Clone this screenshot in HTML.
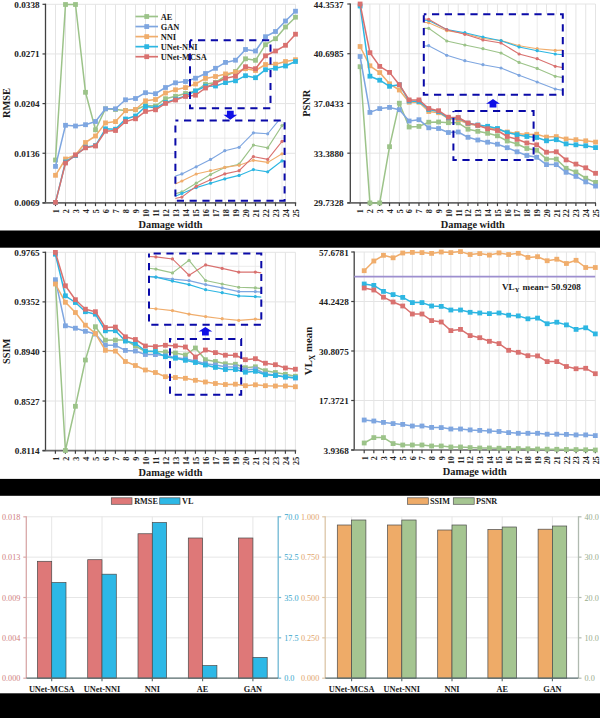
<!DOCTYPE html><html><head><meta charset="utf-8"><style>html,body{margin:0;padding:0;background:#fff;}svg{display:block;}text.k{stroke:#222;stroke-width:0.22px;}</style></head><body>
<svg width="600" height="718" viewBox="0 0 600 718" font-family="'Liberation Serif', serif">
<rect width="600" height="718" fill="#fff"/>
<defs><clipPath id="c1"><rect x="40" y="0" width="260" height="208"/></clipPath><clipPath id="c2"><rect x="345" y="0" width="255" height="208"/></clipPath><clipPath id="c3"><rect x="40" y="248" width="260" height="208"/></clipPath><clipPath id="c4"><rect x="345" y="248" width="255" height="208"/></clipPath></defs>
<line x1="45.5" y1="4.3" x2="295.6" y2="4.3" stroke="#e4e4e4" stroke-width="1"/>
<line x1="45.5" y1="53.95" x2="295.6" y2="53.95" stroke="#e4e4e4" stroke-width="1"/>
<line x1="45.5" y1="103.6" x2="295.6" y2="103.6" stroke="#e4e4e4" stroke-width="1"/>
<line x1="45.5" y1="153.25" x2="295.6" y2="153.25" stroke="#e4e4e4" stroke-width="1"/>
<line x1="45.5" y1="202.9" x2="295.6" y2="202.9" stroke="#e4e4e4" stroke-width="1"/>
<line x1="55.5" y1="4.3" x2="55.5" y2="202.9" stroke="#e4e4e4" stroke-width="1"/>
<line x1="65.5" y1="4.3" x2="65.5" y2="202.9" stroke="#e4e4e4" stroke-width="1"/>
<line x1="75.5" y1="4.3" x2="75.5" y2="202.9" stroke="#e4e4e4" stroke-width="1"/>
<line x1="85.5" y1="4.3" x2="85.5" y2="202.9" stroke="#e4e4e4" stroke-width="1"/>
<line x1="95.5" y1="4.3" x2="95.5" y2="202.9" stroke="#e4e4e4" stroke-width="1"/>
<line x1="105.5" y1="4.3" x2="105.5" y2="202.9" stroke="#e4e4e4" stroke-width="1"/>
<line x1="115.5" y1="4.3" x2="115.5" y2="202.9" stroke="#e4e4e4" stroke-width="1"/>
<line x1="125.5" y1="4.3" x2="125.5" y2="202.9" stroke="#e4e4e4" stroke-width="1"/>
<line x1="135.5" y1="4.3" x2="135.5" y2="202.9" stroke="#e4e4e4" stroke-width="1"/>
<line x1="145.5" y1="4.3" x2="145.5" y2="202.9" stroke="#e4e4e4" stroke-width="1"/>
<line x1="155.5" y1="4.3" x2="155.5" y2="202.9" stroke="#e4e4e4" stroke-width="1"/>
<line x1="165.5" y1="4.3" x2="165.5" y2="202.9" stroke="#e4e4e4" stroke-width="1"/>
<line x1="175.5" y1="4.3" x2="175.5" y2="202.9" stroke="#e4e4e4" stroke-width="1"/>
<line x1="185.5" y1="4.3" x2="185.5" y2="202.9" stroke="#e4e4e4" stroke-width="1"/>
<line x1="195.5" y1="4.3" x2="195.5" y2="202.9" stroke="#e4e4e4" stroke-width="1"/>
<line x1="205.5" y1="4.3" x2="205.5" y2="202.9" stroke="#e4e4e4" stroke-width="1"/>
<line x1="215.5" y1="4.3" x2="215.5" y2="202.9" stroke="#e4e4e4" stroke-width="1"/>
<line x1="225.5" y1="4.3" x2="225.5" y2="202.9" stroke="#e4e4e4" stroke-width="1"/>
<line x1="235.5" y1="4.3" x2="235.5" y2="202.9" stroke="#e4e4e4" stroke-width="1"/>
<line x1="245.5" y1="4.3" x2="245.5" y2="202.9" stroke="#e4e4e4" stroke-width="1"/>
<line x1="255.5" y1="4.3" x2="255.5" y2="202.9" stroke="#e4e4e4" stroke-width="1"/>
<line x1="265.5" y1="4.3" x2="265.5" y2="202.9" stroke="#e4e4e4" stroke-width="1"/>
<line x1="275.5" y1="4.3" x2="275.5" y2="202.9" stroke="#e4e4e4" stroke-width="1"/>
<line x1="285.5" y1="4.3" x2="285.5" y2="202.9" stroke="#e4e4e4" stroke-width="1"/>
<line x1="295.5" y1="4.3" x2="295.5" y2="202.9" stroke="#e4e4e4" stroke-width="1"/>
<line x1="45.5" y1="3.7" x2="45.5" y2="202.9" stroke="#404040" stroke-width="1.3"/>
<line x1="42.5" y1="202.9" x2="296.2" y2="202.9" stroke="#6a6a6a" stroke-width="1.6"/>
<line x1="42.5" y1="4.3" x2="45.5" y2="4.3" stroke="#404040" stroke-width="1.2"/>
<line x1="42.5" y1="53.95" x2="45.5" y2="53.95" stroke="#404040" stroke-width="1.2"/>
<line x1="42.5" y1="103.6" x2="45.5" y2="103.6" stroke="#404040" stroke-width="1.2"/>
<line x1="42.5" y1="153.25" x2="45.5" y2="153.25" stroke="#404040" stroke-width="1.2"/>
<line x1="42.5" y1="202.9" x2="45.5" y2="202.9" stroke="#404040" stroke-width="1.2"/>
<line x1="55.5" y1="202.9" x2="55.5" y2="206.1" stroke="#404040" stroke-width="1.2"/>
<line x1="65.5" y1="202.9" x2="65.5" y2="206.1" stroke="#404040" stroke-width="1.2"/>
<line x1="75.5" y1="202.9" x2="75.5" y2="206.1" stroke="#404040" stroke-width="1.2"/>
<line x1="85.5" y1="202.9" x2="85.5" y2="206.1" stroke="#404040" stroke-width="1.2"/>
<line x1="95.5" y1="202.9" x2="95.5" y2="206.1" stroke="#404040" stroke-width="1.2"/>
<line x1="105.5" y1="202.9" x2="105.5" y2="206.1" stroke="#404040" stroke-width="1.2"/>
<line x1="115.5" y1="202.9" x2="115.5" y2="206.1" stroke="#404040" stroke-width="1.2"/>
<line x1="125.5" y1="202.9" x2="125.5" y2="206.1" stroke="#404040" stroke-width="1.2"/>
<line x1="135.5" y1="202.9" x2="135.5" y2="206.1" stroke="#404040" stroke-width="1.2"/>
<line x1="145.5" y1="202.9" x2="145.5" y2="206.1" stroke="#404040" stroke-width="1.2"/>
<line x1="155.5" y1="202.9" x2="155.5" y2="206.1" stroke="#404040" stroke-width="1.2"/>
<line x1="165.5" y1="202.9" x2="165.5" y2="206.1" stroke="#404040" stroke-width="1.2"/>
<line x1="175.5" y1="202.9" x2="175.5" y2="206.1" stroke="#404040" stroke-width="1.2"/>
<line x1="185.5" y1="202.9" x2="185.5" y2="206.1" stroke="#404040" stroke-width="1.2"/>
<line x1="195.5" y1="202.9" x2="195.5" y2="206.1" stroke="#404040" stroke-width="1.2"/>
<line x1="205.5" y1="202.9" x2="205.5" y2="206.1" stroke="#404040" stroke-width="1.2"/>
<line x1="215.5" y1="202.9" x2="215.5" y2="206.1" stroke="#404040" stroke-width="1.2"/>
<line x1="225.5" y1="202.9" x2="225.5" y2="206.1" stroke="#404040" stroke-width="1.2"/>
<line x1="235.5" y1="202.9" x2="235.5" y2="206.1" stroke="#404040" stroke-width="1.2"/>
<line x1="245.5" y1="202.9" x2="245.5" y2="206.1" stroke="#404040" stroke-width="1.2"/>
<line x1="255.5" y1="202.9" x2="255.5" y2="206.1" stroke="#404040" stroke-width="1.2"/>
<line x1="265.5" y1="202.9" x2="265.5" y2="206.1" stroke="#404040" stroke-width="1.2"/>
<line x1="275.5" y1="202.9" x2="275.5" y2="206.1" stroke="#404040" stroke-width="1.2"/>
<line x1="285.5" y1="202.9" x2="285.5" y2="206.1" stroke="#404040" stroke-width="1.2"/>
<line x1="295.5" y1="202.9" x2="295.5" y2="206.1" stroke="#404040" stroke-width="1.2"/>
<text x="39.6" y="7.8" text-anchor="end" font-size="9.2" font-weight="bold" fill="#222">0.0338</text>
<text x="39.6" y="57.45" text-anchor="end" font-size="9.2" font-weight="bold" fill="#222">0.0271</text>
<text x="39.6" y="107.1" text-anchor="end" font-size="9.2" font-weight="bold" fill="#222">0.0204</text>
<text x="39.6" y="156.75" text-anchor="end" font-size="9.2" font-weight="bold" fill="#222">0.0136</text>
<text x="39.6" y="206.4" text-anchor="end" font-size="9.2" font-weight="bold" fill="#222">0.0069</text>
<text transform="translate(58.8,209.1) rotate(-90)" text-anchor="end" font-size="8.1" font-weight="bold" fill="#222">1</text>
<text transform="translate(68.8,209.1) rotate(-90)" text-anchor="end" font-size="8.1" font-weight="bold" fill="#222">2</text>
<text transform="translate(78.8,209.1) rotate(-90)" text-anchor="end" font-size="8.1" font-weight="bold" fill="#222">3</text>
<text transform="translate(88.8,209.1) rotate(-90)" text-anchor="end" font-size="8.1" font-weight="bold" fill="#222">4</text>
<text transform="translate(98.8,209.1) rotate(-90)" text-anchor="end" font-size="8.1" font-weight="bold" fill="#222">5</text>
<text transform="translate(108.8,209.1) rotate(-90)" text-anchor="end" font-size="8.1" font-weight="bold" fill="#222">6</text>
<text transform="translate(118.8,209.1) rotate(-90)" text-anchor="end" font-size="8.1" font-weight="bold" fill="#222">7</text>
<text transform="translate(128.8,209.1) rotate(-90)" text-anchor="end" font-size="8.1" font-weight="bold" fill="#222">8</text>
<text transform="translate(138.8,209.1) rotate(-90)" text-anchor="end" font-size="8.1" font-weight="bold" fill="#222">9</text>
<text transform="translate(148.8,209.1) rotate(-90)" text-anchor="end" font-size="8.1" font-weight="bold" fill="#222">10</text>
<text transform="translate(158.8,209.1) rotate(-90)" text-anchor="end" font-size="8.1" font-weight="bold" fill="#222">11</text>
<text transform="translate(168.8,209.1) rotate(-90)" text-anchor="end" font-size="8.1" font-weight="bold" fill="#222">12</text>
<text transform="translate(178.8,209.1) rotate(-90)" text-anchor="end" font-size="8.1" font-weight="bold" fill="#222">13</text>
<text transform="translate(188.8,209.1) rotate(-90)" text-anchor="end" font-size="8.1" font-weight="bold" fill="#222">14</text>
<text transform="translate(198.8,209.1) rotate(-90)" text-anchor="end" font-size="8.1" font-weight="bold" fill="#222">15</text>
<text transform="translate(208.8,209.1) rotate(-90)" text-anchor="end" font-size="8.1" font-weight="bold" fill="#222">16</text>
<text transform="translate(218.8,209.1) rotate(-90)" text-anchor="end" font-size="8.1" font-weight="bold" fill="#222">17</text>
<text transform="translate(228.8,209.1) rotate(-90)" text-anchor="end" font-size="8.1" font-weight="bold" fill="#222">18</text>
<text transform="translate(238.8,209.1) rotate(-90)" text-anchor="end" font-size="8.1" font-weight="bold" fill="#222">19</text>
<text transform="translate(248.8,209.1) rotate(-90)" text-anchor="end" font-size="8.1" font-weight="bold" fill="#222">20</text>
<text transform="translate(258.8,209.1) rotate(-90)" text-anchor="end" font-size="8.1" font-weight="bold" fill="#222">21</text>
<text transform="translate(268.8,209.1) rotate(-90)" text-anchor="end" font-size="8.1" font-weight="bold" fill="#222">22</text>
<text transform="translate(278.8,209.1) rotate(-90)" text-anchor="end" font-size="8.1" font-weight="bold" fill="#222">23</text>
<text transform="translate(288.8,209.1) rotate(-90)" text-anchor="end" font-size="8.1" font-weight="bold" fill="#222">24</text>
<text transform="translate(298.8,209.1) rotate(-90)" text-anchor="end" font-size="8.1" font-weight="bold" fill="#222">25</text>
<text x="170.55" y="228.3" text-anchor="middle" font-size="10.35" font-weight="bold" fill="#1a1a1a" transform="translate(0,0)">Damage width</text>
<text transform="translate(10.4,103.1) rotate(-90)" text-anchor="middle" font-size="10.4" font-weight="bold" fill="#1a1a1a">RMSE</text>
<g clip-path="url(#c1)">
<polyline points="55.5,160 65.5,4.5 75.5,4.5 85.5,92.3 95.5,129.8 105.5,108.8 115.5,109.5 125.5,110.5 135.5,109.8 145.5,105.5 155.5,106 165.5,98.7 175.5,96.3 185.5,93.5 195.5,91 205.5,84.2 215.5,82.5 225.5,76 235.5,71.5 245.5,58.8 255.5,60.3 265.5,44.7 275.5,38.7 285.5,27 295.5,17.2" fill="none" stroke="#9cc389" stroke-width="1.5" stroke-linejoin="round"/>
<rect x="53.1" y="157.6" width="4.8" height="4.8" fill="#9cc389"/>
<rect x="63.1" y="2.1" width="4.8" height="4.8" fill="#9cc389"/>
<rect x="73.1" y="2.1" width="4.8" height="4.8" fill="#9cc389"/>
<rect x="83.1" y="89.9" width="4.8" height="4.8" fill="#9cc389"/>
<rect x="93.1" y="127.4" width="4.8" height="4.8" fill="#9cc389"/>
<rect x="103.1" y="106.4" width="4.8" height="4.8" fill="#9cc389"/>
<rect x="113.1" y="107.1" width="4.8" height="4.8" fill="#9cc389"/>
<rect x="123.1" y="108.1" width="4.8" height="4.8" fill="#9cc389"/>
<rect x="133.1" y="107.4" width="4.8" height="4.8" fill="#9cc389"/>
<rect x="143.1" y="103.1" width="4.8" height="4.8" fill="#9cc389"/>
<rect x="153.1" y="103.6" width="4.8" height="4.8" fill="#9cc389"/>
<rect x="163.1" y="96.3" width="4.8" height="4.8" fill="#9cc389"/>
<rect x="173.1" y="93.9" width="4.8" height="4.8" fill="#9cc389"/>
<rect x="183.1" y="91.1" width="4.8" height="4.8" fill="#9cc389"/>
<rect x="193.1" y="88.6" width="4.8" height="4.8" fill="#9cc389"/>
<rect x="203.1" y="81.8" width="4.8" height="4.8" fill="#9cc389"/>
<rect x="213.1" y="80.1" width="4.8" height="4.8" fill="#9cc389"/>
<rect x="223.1" y="73.6" width="4.8" height="4.8" fill="#9cc389"/>
<rect x="233.1" y="69.1" width="4.8" height="4.8" fill="#9cc389"/>
<rect x="243.1" y="56.4" width="4.8" height="4.8" fill="#9cc389"/>
<rect x="253.1" y="57.9" width="4.8" height="4.8" fill="#9cc389"/>
<rect x="263.1" y="42.3" width="4.8" height="4.8" fill="#9cc389"/>
<rect x="273.1" y="36.3" width="4.8" height="4.8" fill="#9cc389"/>
<rect x="283.1" y="24.6" width="4.8" height="4.8" fill="#9cc389"/>
<rect x="293.1" y="14.8" width="4.8" height="4.8" fill="#9cc389"/>
<polyline points="55.5,166.4 65.5,125.3 75.5,126 85.5,124.7 95.5,121.5 105.5,108.8 115.5,108.8 125.5,99.8 135.5,98.5 145.5,92.7 155.5,93.7 165.5,87.5 175.5,82.8 185.5,81.5 195.5,78.2 205.5,73.5 215.5,68.3 225.5,62.4 235.5,60.2 245.5,49.5 255.5,51 265.5,36.7 275.5,31.5 285.5,21 295.5,11.2" fill="none" stroke="#7ea6e0" stroke-width="1.5" stroke-linejoin="round"/>
<rect x="53.1" y="164" width="4.8" height="4.8" fill="#7ea6e0"/>
<rect x="63.1" y="122.9" width="4.8" height="4.8" fill="#7ea6e0"/>
<rect x="73.1" y="123.6" width="4.8" height="4.8" fill="#7ea6e0"/>
<rect x="83.1" y="122.3" width="4.8" height="4.8" fill="#7ea6e0"/>
<rect x="93.1" y="119.1" width="4.8" height="4.8" fill="#7ea6e0"/>
<rect x="103.1" y="106.4" width="4.8" height="4.8" fill="#7ea6e0"/>
<rect x="113.1" y="106.4" width="4.8" height="4.8" fill="#7ea6e0"/>
<rect x="123.1" y="97.4" width="4.8" height="4.8" fill="#7ea6e0"/>
<rect x="133.1" y="96.1" width="4.8" height="4.8" fill="#7ea6e0"/>
<rect x="143.1" y="90.3" width="4.8" height="4.8" fill="#7ea6e0"/>
<rect x="153.1" y="91.3" width="4.8" height="4.8" fill="#7ea6e0"/>
<rect x="163.1" y="85.1" width="4.8" height="4.8" fill="#7ea6e0"/>
<rect x="173.1" y="80.4" width="4.8" height="4.8" fill="#7ea6e0"/>
<rect x="183.1" y="79.1" width="4.8" height="4.8" fill="#7ea6e0"/>
<rect x="193.1" y="75.8" width="4.8" height="4.8" fill="#7ea6e0"/>
<rect x="203.1" y="71.1" width="4.8" height="4.8" fill="#7ea6e0"/>
<rect x="213.1" y="65.9" width="4.8" height="4.8" fill="#7ea6e0"/>
<rect x="223.1" y="60" width="4.8" height="4.8" fill="#7ea6e0"/>
<rect x="233.1" y="57.8" width="4.8" height="4.8" fill="#7ea6e0"/>
<rect x="243.1" y="47.1" width="4.8" height="4.8" fill="#7ea6e0"/>
<rect x="253.1" y="48.6" width="4.8" height="4.8" fill="#7ea6e0"/>
<rect x="263.1" y="34.3" width="4.8" height="4.8" fill="#7ea6e0"/>
<rect x="273.1" y="29.1" width="4.8" height="4.8" fill="#7ea6e0"/>
<rect x="283.1" y="18.6" width="4.8" height="4.8" fill="#7ea6e0"/>
<rect x="293.1" y="8.8" width="4.8" height="4.8" fill="#7ea6e0"/>
<polyline points="55.5,175.3 65.5,159 75.5,155 85.5,142.5 95.5,136 105.5,122.9 115.5,121.6 125.5,110.7 135.5,109.5 145.5,100.8 155.5,99.5 165.5,93 175.5,89.8 185.5,87.6 195.5,84 205.5,78.4 215.5,76.5 225.5,73.9 235.5,72.2 245.5,68.7 255.5,70.5 265.5,64.5 275.5,64.2 285.5,61.5 295.5,59.7" fill="none" stroke="#f0ad6c" stroke-width="1.5" stroke-linejoin="round"/>
<rect x="53.1" y="172.9" width="4.8" height="4.8" fill="#f0ad6c"/>
<rect x="63.1" y="156.6" width="4.8" height="4.8" fill="#f0ad6c"/>
<rect x="73.1" y="152.6" width="4.8" height="4.8" fill="#f0ad6c"/>
<rect x="83.1" y="140.1" width="4.8" height="4.8" fill="#f0ad6c"/>
<rect x="93.1" y="133.6" width="4.8" height="4.8" fill="#f0ad6c"/>
<rect x="103.1" y="120.5" width="4.8" height="4.8" fill="#f0ad6c"/>
<rect x="113.1" y="119.2" width="4.8" height="4.8" fill="#f0ad6c"/>
<rect x="123.1" y="108.3" width="4.8" height="4.8" fill="#f0ad6c"/>
<rect x="133.1" y="107.1" width="4.8" height="4.8" fill="#f0ad6c"/>
<rect x="143.1" y="98.4" width="4.8" height="4.8" fill="#f0ad6c"/>
<rect x="153.1" y="97.1" width="4.8" height="4.8" fill="#f0ad6c"/>
<rect x="163.1" y="90.6" width="4.8" height="4.8" fill="#f0ad6c"/>
<rect x="173.1" y="87.4" width="4.8" height="4.8" fill="#f0ad6c"/>
<rect x="183.1" y="85.2" width="4.8" height="4.8" fill="#f0ad6c"/>
<rect x="193.1" y="81.6" width="4.8" height="4.8" fill="#f0ad6c"/>
<rect x="203.1" y="76" width="4.8" height="4.8" fill="#f0ad6c"/>
<rect x="213.1" y="74.1" width="4.8" height="4.8" fill="#f0ad6c"/>
<rect x="223.1" y="71.5" width="4.8" height="4.8" fill="#f0ad6c"/>
<rect x="233.1" y="69.8" width="4.8" height="4.8" fill="#f0ad6c"/>
<rect x="243.1" y="66.3" width="4.8" height="4.8" fill="#f0ad6c"/>
<rect x="253.1" y="68.1" width="4.8" height="4.8" fill="#f0ad6c"/>
<rect x="263.1" y="62.1" width="4.8" height="4.8" fill="#f0ad6c"/>
<rect x="273.1" y="61.8" width="4.8" height="4.8" fill="#f0ad6c"/>
<rect x="283.1" y="59.1" width="4.8" height="4.8" fill="#f0ad6c"/>
<rect x="293.1" y="57.3" width="4.8" height="4.8" fill="#f0ad6c"/>
<polyline points="55.5,202.4 65.5,162 75.5,155.5 85.5,147.2 95.5,145.6 105.5,128.8 115.5,129.2 125.5,119 135.5,116 145.5,106.5 155.5,107.8 165.5,102.6 175.5,99.2 185.5,95.9 195.5,91 205.5,86.2 215.5,86 225.5,82.6 235.5,80.8 245.5,75.7 255.5,77.7 265.5,69.7 275.5,68.2 285.5,66 295.5,61.5" fill="none" stroke="#2db6e2" stroke-width="1.5" stroke-linejoin="round"/>
<rect x="53.1" y="200" width="4.8" height="4.8" fill="#2db6e2"/>
<rect x="63.1" y="159.6" width="4.8" height="4.8" fill="#2db6e2"/>
<rect x="73.1" y="153.1" width="4.8" height="4.8" fill="#2db6e2"/>
<rect x="83.1" y="144.8" width="4.8" height="4.8" fill="#2db6e2"/>
<rect x="93.1" y="143.2" width="4.8" height="4.8" fill="#2db6e2"/>
<rect x="103.1" y="126.4" width="4.8" height="4.8" fill="#2db6e2"/>
<rect x="113.1" y="126.8" width="4.8" height="4.8" fill="#2db6e2"/>
<rect x="123.1" y="116.6" width="4.8" height="4.8" fill="#2db6e2"/>
<rect x="133.1" y="113.6" width="4.8" height="4.8" fill="#2db6e2"/>
<rect x="143.1" y="104.1" width="4.8" height="4.8" fill="#2db6e2"/>
<rect x="153.1" y="105.4" width="4.8" height="4.8" fill="#2db6e2"/>
<rect x="163.1" y="100.2" width="4.8" height="4.8" fill="#2db6e2"/>
<rect x="173.1" y="96.8" width="4.8" height="4.8" fill="#2db6e2"/>
<rect x="183.1" y="93.5" width="4.8" height="4.8" fill="#2db6e2"/>
<rect x="193.1" y="88.6" width="4.8" height="4.8" fill="#2db6e2"/>
<rect x="203.1" y="83.8" width="4.8" height="4.8" fill="#2db6e2"/>
<rect x="213.1" y="83.6" width="4.8" height="4.8" fill="#2db6e2"/>
<rect x="223.1" y="80.2" width="4.8" height="4.8" fill="#2db6e2"/>
<rect x="233.1" y="78.4" width="4.8" height="4.8" fill="#2db6e2"/>
<rect x="243.1" y="73.3" width="4.8" height="4.8" fill="#2db6e2"/>
<rect x="253.1" y="75.3" width="4.8" height="4.8" fill="#2db6e2"/>
<rect x="263.1" y="67.3" width="4.8" height="4.8" fill="#2db6e2"/>
<rect x="273.1" y="65.8" width="4.8" height="4.8" fill="#2db6e2"/>
<rect x="283.1" y="63.6" width="4.8" height="4.8" fill="#2db6e2"/>
<rect x="293.1" y="59.1" width="4.8" height="4.8" fill="#2db6e2"/>
<polyline points="55.5,202.4 65.5,163 75.5,155 85.5,147.8 95.5,146 105.5,131.2 115.5,130.5 125.5,121.6 135.5,118.8 145.5,111.4 155.5,109.8 165.5,103.4 175.5,100 185.5,96.4 195.5,95.2 205.5,88 215.5,83 225.5,78.2 235.5,76.2 245.5,66.7 255.5,68.7 265.5,55.8 275.5,51 285.5,45.3 295.5,34.2" fill="none" stroke="#d9716f" stroke-width="1.5" stroke-linejoin="round"/>
<rect x="53.1" y="200" width="4.8" height="4.8" fill="#d9716f"/>
<rect x="63.1" y="160.6" width="4.8" height="4.8" fill="#d9716f"/>
<rect x="73.1" y="152.6" width="4.8" height="4.8" fill="#d9716f"/>
<rect x="83.1" y="145.4" width="4.8" height="4.8" fill="#d9716f"/>
<rect x="93.1" y="143.6" width="4.8" height="4.8" fill="#d9716f"/>
<rect x="103.1" y="128.8" width="4.8" height="4.8" fill="#d9716f"/>
<rect x="113.1" y="128.1" width="4.8" height="4.8" fill="#d9716f"/>
<rect x="123.1" y="119.2" width="4.8" height="4.8" fill="#d9716f"/>
<rect x="133.1" y="116.4" width="4.8" height="4.8" fill="#d9716f"/>
<rect x="143.1" y="109" width="4.8" height="4.8" fill="#d9716f"/>
<rect x="153.1" y="107.4" width="4.8" height="4.8" fill="#d9716f"/>
<rect x="163.1" y="101" width="4.8" height="4.8" fill="#d9716f"/>
<rect x="173.1" y="97.6" width="4.8" height="4.8" fill="#d9716f"/>
<rect x="183.1" y="94" width="4.8" height="4.8" fill="#d9716f"/>
<rect x="193.1" y="92.8" width="4.8" height="4.8" fill="#d9716f"/>
<rect x="203.1" y="85.6" width="4.8" height="4.8" fill="#d9716f"/>
<rect x="213.1" y="80.6" width="4.8" height="4.8" fill="#d9716f"/>
<rect x="223.1" y="75.8" width="4.8" height="4.8" fill="#d9716f"/>
<rect x="233.1" y="73.8" width="4.8" height="4.8" fill="#d9716f"/>
<rect x="243.1" y="64.3" width="4.8" height="4.8" fill="#d9716f"/>
<rect x="253.1" y="66.3" width="4.8" height="4.8" fill="#d9716f"/>
<rect x="263.1" y="53.4" width="4.8" height="4.8" fill="#d9716f"/>
<rect x="273.1" y="48.6" width="4.8" height="4.8" fill="#d9716f"/>
<rect x="283.1" y="42.9" width="4.8" height="4.8" fill="#d9716f"/>
<rect x="293.1" y="31.8" width="4.8" height="4.8" fill="#d9716f"/>
</g>
<line x1="135.5" y1="16.5" x2="158" y2="16.5" stroke="#9cc389" stroke-width="1.7"/>
<rect x="144.3" y="14.1" width="4.8" height="4.8" fill="#9cc389"/>
<text x="160.7" y="19.5" font-size="8.4" font-weight="bold" fill="#1a1a1a">AE</text>
<line x1="135.5" y1="26.55" x2="158" y2="26.55" stroke="#7ea6e0" stroke-width="1.7"/>
<rect x="144.3" y="24.15" width="4.8" height="4.8" fill="#7ea6e0"/>
<text x="160.7" y="29.55" font-size="8.4" font-weight="bold" fill="#1a1a1a">GAN</text>
<line x1="135.5" y1="36.6" x2="158" y2="36.6" stroke="#f0ad6c" stroke-width="1.7"/>
<rect x="144.3" y="34.2" width="4.8" height="4.8" fill="#f0ad6c"/>
<text x="160.7" y="39.6" font-size="8.4" font-weight="bold" fill="#1a1a1a">NNI</text>
<line x1="135.5" y1="46.65" x2="158" y2="46.65" stroke="#2db6e2" stroke-width="1.7"/>
<rect x="144.3" y="44.25" width="4.8" height="4.8" fill="#2db6e2"/>
<text x="160.7" y="49.65" font-size="8.4" font-weight="bold" fill="#1a1a1a">UNet-NNI</text>
<line x1="135.5" y1="56.7" x2="158" y2="56.7" stroke="#d9716f" stroke-width="1.7"/>
<rect x="144.3" y="54.3" width="4.8" height="4.8" fill="#d9716f"/>
<text x="160.7" y="59.7" font-size="8.4" font-weight="bold" fill="#1a1a1a">UNet-MCSA</text>
<rect x="175.4" y="120.4" width="109.2" height="80.2" fill="#fff"/>
<line x1="181.9" y1="120.4" x2="181.9" y2="200.6" stroke="#e6e6e6" stroke-width="0.8"/>
<line x1="196.2" y1="120.4" x2="196.2" y2="200.6" stroke="#e6e6e6" stroke-width="0.8"/>
<line x1="210.5" y1="120.4" x2="210.5" y2="200.6" stroke="#e6e6e6" stroke-width="0.8"/>
<line x1="224.8" y1="120.4" x2="224.8" y2="200.6" stroke="#e6e6e6" stroke-width="0.8"/>
<line x1="239.1" y1="120.4" x2="239.1" y2="200.6" stroke="#e6e6e6" stroke-width="0.8"/>
<line x1="253.4" y1="120.4" x2="253.4" y2="200.6" stroke="#e6e6e6" stroke-width="0.8"/>
<line x1="267.7" y1="120.4" x2="267.7" y2="200.6" stroke="#e6e6e6" stroke-width="0.8"/>
<line x1="282" y1="120.4" x2="282" y2="200.6" stroke="#e6e6e6" stroke-width="0.8"/>
<line x1="175.4" y1="138.2" x2="284.6" y2="138.2" stroke="#e6e6e6" stroke-width="0.8"/>
<clipPath id="ic175"><rect x="175.4" y="120.4" width="109.2" height="80.2"/></clipPath>
<g clip-path="url(#ic175)">
<polyline points="167.6,195.94 181.9,191.9 196.2,183.2 210.5,174.6 224.8,167.4 239.1,164.2 253.4,145.1 267.7,147.9 282,125.6 296.3,117.03" fill="none" stroke="#9cc389" stroke-width="1.1"/>
<circle cx="181.9" cy="191.9" r="1.6" fill="#9cc389"/>
<circle cx="196.2" cy="183.2" r="1.6" fill="#9cc389"/>
<circle cx="210.5" cy="174.6" r="1.6" fill="#9cc389"/>
<circle cx="224.8" cy="167.4" r="1.6" fill="#9cc389"/>
<circle cx="239.1" cy="164.2" r="1.6" fill="#9cc389"/>
<circle cx="253.4" cy="145.1" r="1.6" fill="#9cc389"/>
<circle cx="267.7" cy="147.9" r="1.6" fill="#9cc389"/>
<circle cx="282" cy="125.6" r="1.6" fill="#9cc389"/>
<polyline points="167.6,178.66 181.9,173.9 196.2,166.8 210.5,159.4 224.8,150.7 239.1,147.3 253.4,132.8 267.7,133.8 282,116.5 296.3,106.66" fill="none" stroke="#7ea6e0" stroke-width="1.1"/>
<circle cx="181.9" cy="173.9" r="1.6" fill="#7ea6e0"/>
<circle cx="196.2" cy="166.8" r="1.6" fill="#7ea6e0"/>
<circle cx="210.5" cy="159.4" r="1.6" fill="#7ea6e0"/>
<circle cx="224.8" cy="150.7" r="1.6" fill="#7ea6e0"/>
<circle cx="239.1" cy="147.3" r="1.6" fill="#7ea6e0"/>
<circle cx="253.4" cy="132.8" r="1.6" fill="#7ea6e0"/>
<circle cx="267.7" cy="133.8" r="1.6" fill="#7ea6e0"/>
<circle cx="282" cy="116.5" r="1.6" fill="#7ea6e0"/>
<polyline points="167.6,187.44 181.9,181 196.2,174 210.5,170.7 224.8,167.4 239.1,165.3 253.4,160.3 267.7,162.4 282,153.8 296.3,153.75" fill="none" stroke="#f0ad6c" stroke-width="1.1"/>
<circle cx="181.9" cy="181" r="1.6" fill="#f0ad6c"/>
<circle cx="196.2" cy="174" r="1.6" fill="#f0ad6c"/>
<circle cx="210.5" cy="170.7" r="1.6" fill="#f0ad6c"/>
<circle cx="224.8" cy="167.4" r="1.6" fill="#f0ad6c"/>
<circle cx="239.1" cy="165.3" r="1.6" fill="#f0ad6c"/>
<circle cx="253.4" cy="160.3" r="1.6" fill="#f0ad6c"/>
<circle cx="267.7" cy="162.4" r="1.6" fill="#f0ad6c"/>
<circle cx="282" cy="153.8" r="1.6" fill="#f0ad6c"/>
<polyline points="167.6,199.4 181.9,193.4 196.2,187.6 210.5,183.2 224.8,178.9 239.1,175.4 253.4,169.6 267.7,171.8 282,160.9 296.3,159.51" fill="none" stroke="#2db6e2" stroke-width="1.1"/>
<circle cx="181.9" cy="193.4" r="1.6" fill="#2db6e2"/>
<circle cx="196.2" cy="187.6" r="1.6" fill="#2db6e2"/>
<circle cx="210.5" cy="183.2" r="1.6" fill="#2db6e2"/>
<circle cx="224.8" cy="178.9" r="1.6" fill="#2db6e2"/>
<circle cx="239.1" cy="175.4" r="1.6" fill="#2db6e2"/>
<circle cx="253.4" cy="169.6" r="1.6" fill="#2db6e2"/>
<circle cx="267.7" cy="171.8" r="1.6" fill="#2db6e2"/>
<circle cx="282" cy="160.9" r="1.6" fill="#2db6e2"/>
<polyline points="167.6,200.12 181.9,197.1 196.2,186.3 210.5,179.8 224.8,173.9 239.1,170.7 253.4,156.6 267.7,159.4 282,141.4 296.3,134.74" fill="none" stroke="#d9716f" stroke-width="1.1"/>
<circle cx="181.9" cy="197.1" r="1.6" fill="#d9716f"/>
<circle cx="196.2" cy="186.3" r="1.6" fill="#d9716f"/>
<circle cx="210.5" cy="179.8" r="1.6" fill="#d9716f"/>
<circle cx="224.8" cy="173.9" r="1.6" fill="#d9716f"/>
<circle cx="239.1" cy="170.7" r="1.6" fill="#d9716f"/>
<circle cx="253.4" cy="156.6" r="1.6" fill="#d9716f"/>
<circle cx="267.7" cy="159.4" r="1.6" fill="#d9716f"/>
<circle cx="282" cy="141.4" r="1.6" fill="#d9716f"/>
</g>
<rect x="175.4" y="120.4" width="109.2" height="80.4" fill="none" stroke="#0a0aa8" stroke-width="2" stroke-dasharray="7.2 5.6" stroke-dashoffset="4.2"/>
<rect x="190" y="40.2" width="80.5" height="68.1" fill="none" stroke="#0a0aa8" stroke-width="2" stroke-dasharray="7.2 5.6" stroke-dashoffset="4.8"/>
<path d="M226.9,110.8 L233.7,110.8 L233.7,114.85 L237.2,114.85 L230.3,119.8 L223.4,114.85 L226.9,114.85 Z" fill="#1010e6"/>
<line x1="350.3" y1="4" x2="595.4" y2="4" stroke="#e4e4e4" stroke-width="1"/>
<line x1="350.3" y1="53.73" x2="595.4" y2="53.73" stroke="#e4e4e4" stroke-width="1"/>
<line x1="350.3" y1="103.45" x2="595.4" y2="103.45" stroke="#e4e4e4" stroke-width="1"/>
<line x1="350.3" y1="153.18" x2="595.4" y2="153.18" stroke="#e4e4e4" stroke-width="1"/>
<line x1="350.3" y1="202.9" x2="595.4" y2="202.9" stroke="#e4e4e4" stroke-width="1"/>
<line x1="360.1" y1="4" x2="360.1" y2="202.9" stroke="#e4e4e4" stroke-width="1"/>
<line x1="369.91" y1="4" x2="369.91" y2="202.9" stroke="#e4e4e4" stroke-width="1"/>
<line x1="379.72" y1="4" x2="379.72" y2="202.9" stroke="#e4e4e4" stroke-width="1"/>
<line x1="389.53" y1="4" x2="389.53" y2="202.9" stroke="#e4e4e4" stroke-width="1"/>
<line x1="399.34" y1="4" x2="399.34" y2="202.9" stroke="#e4e4e4" stroke-width="1"/>
<line x1="409.15" y1="4" x2="409.15" y2="202.9" stroke="#e4e4e4" stroke-width="1"/>
<line x1="418.96" y1="4" x2="418.96" y2="202.9" stroke="#e4e4e4" stroke-width="1"/>
<line x1="428.77" y1="4" x2="428.77" y2="202.9" stroke="#e4e4e4" stroke-width="1"/>
<line x1="438.58" y1="4" x2="438.58" y2="202.9" stroke="#e4e4e4" stroke-width="1"/>
<line x1="448.39" y1="4" x2="448.39" y2="202.9" stroke="#e4e4e4" stroke-width="1"/>
<line x1="458.2" y1="4" x2="458.2" y2="202.9" stroke="#e4e4e4" stroke-width="1"/>
<line x1="468.01" y1="4" x2="468.01" y2="202.9" stroke="#e4e4e4" stroke-width="1"/>
<line x1="477.82" y1="4" x2="477.82" y2="202.9" stroke="#e4e4e4" stroke-width="1"/>
<line x1="487.63" y1="4" x2="487.63" y2="202.9" stroke="#e4e4e4" stroke-width="1"/>
<line x1="497.44" y1="4" x2="497.44" y2="202.9" stroke="#e4e4e4" stroke-width="1"/>
<line x1="507.25" y1="4" x2="507.25" y2="202.9" stroke="#e4e4e4" stroke-width="1"/>
<line x1="517.06" y1="4" x2="517.06" y2="202.9" stroke="#e4e4e4" stroke-width="1"/>
<line x1="526.87" y1="4" x2="526.87" y2="202.9" stroke="#e4e4e4" stroke-width="1"/>
<line x1="536.68" y1="4" x2="536.68" y2="202.9" stroke="#e4e4e4" stroke-width="1"/>
<line x1="546.49" y1="4" x2="546.49" y2="202.9" stroke="#e4e4e4" stroke-width="1"/>
<line x1="556.3" y1="4" x2="556.3" y2="202.9" stroke="#e4e4e4" stroke-width="1"/>
<line x1="566.11" y1="4" x2="566.11" y2="202.9" stroke="#e4e4e4" stroke-width="1"/>
<line x1="575.92" y1="4" x2="575.92" y2="202.9" stroke="#e4e4e4" stroke-width="1"/>
<line x1="585.73" y1="4" x2="585.73" y2="202.9" stroke="#e4e4e4" stroke-width="1"/>
<line x1="595.54" y1="4" x2="595.54" y2="202.9" stroke="#e4e4e4" stroke-width="1"/>
<line x1="350.3" y1="3.4" x2="350.3" y2="202.9" stroke="#404040" stroke-width="1.3"/>
<line x1="347.3" y1="202.9" x2="596" y2="202.9" stroke="#6a6a6a" stroke-width="1.6"/>
<line x1="347.3" y1="4" x2="350.3" y2="4" stroke="#404040" stroke-width="1.2"/>
<line x1="347.3" y1="53.73" x2="350.3" y2="53.73" stroke="#404040" stroke-width="1.2"/>
<line x1="347.3" y1="103.45" x2="350.3" y2="103.45" stroke="#404040" stroke-width="1.2"/>
<line x1="347.3" y1="153.18" x2="350.3" y2="153.18" stroke="#404040" stroke-width="1.2"/>
<line x1="347.3" y1="202.9" x2="350.3" y2="202.9" stroke="#404040" stroke-width="1.2"/>
<line x1="360.1" y1="202.9" x2="360.1" y2="206.1" stroke="#404040" stroke-width="1.2"/>
<line x1="369.91" y1="202.9" x2="369.91" y2="206.1" stroke="#404040" stroke-width="1.2"/>
<line x1="379.72" y1="202.9" x2="379.72" y2="206.1" stroke="#404040" stroke-width="1.2"/>
<line x1="389.53" y1="202.9" x2="389.53" y2="206.1" stroke="#404040" stroke-width="1.2"/>
<line x1="399.34" y1="202.9" x2="399.34" y2="206.1" stroke="#404040" stroke-width="1.2"/>
<line x1="409.15" y1="202.9" x2="409.15" y2="206.1" stroke="#404040" stroke-width="1.2"/>
<line x1="418.96" y1="202.9" x2="418.96" y2="206.1" stroke="#404040" stroke-width="1.2"/>
<line x1="428.77" y1="202.9" x2="428.77" y2="206.1" stroke="#404040" stroke-width="1.2"/>
<line x1="438.58" y1="202.9" x2="438.58" y2="206.1" stroke="#404040" stroke-width="1.2"/>
<line x1="448.39" y1="202.9" x2="448.39" y2="206.1" stroke="#404040" stroke-width="1.2"/>
<line x1="458.2" y1="202.9" x2="458.2" y2="206.1" stroke="#404040" stroke-width="1.2"/>
<line x1="468.01" y1="202.9" x2="468.01" y2="206.1" stroke="#404040" stroke-width="1.2"/>
<line x1="477.82" y1="202.9" x2="477.82" y2="206.1" stroke="#404040" stroke-width="1.2"/>
<line x1="487.63" y1="202.9" x2="487.63" y2="206.1" stroke="#404040" stroke-width="1.2"/>
<line x1="497.44" y1="202.9" x2="497.44" y2="206.1" stroke="#404040" stroke-width="1.2"/>
<line x1="507.25" y1="202.9" x2="507.25" y2="206.1" stroke="#404040" stroke-width="1.2"/>
<line x1="517.06" y1="202.9" x2="517.06" y2="206.1" stroke="#404040" stroke-width="1.2"/>
<line x1="526.87" y1="202.9" x2="526.87" y2="206.1" stroke="#404040" stroke-width="1.2"/>
<line x1="536.68" y1="202.9" x2="536.68" y2="206.1" stroke="#404040" stroke-width="1.2"/>
<line x1="546.49" y1="202.9" x2="546.49" y2="206.1" stroke="#404040" stroke-width="1.2"/>
<line x1="556.3" y1="202.9" x2="556.3" y2="206.1" stroke="#404040" stroke-width="1.2"/>
<line x1="566.11" y1="202.9" x2="566.11" y2="206.1" stroke="#404040" stroke-width="1.2"/>
<line x1="575.92" y1="202.9" x2="575.92" y2="206.1" stroke="#404040" stroke-width="1.2"/>
<line x1="585.73" y1="202.9" x2="585.73" y2="206.1" stroke="#404040" stroke-width="1.2"/>
<line x1="595.54" y1="202.9" x2="595.54" y2="206.1" stroke="#404040" stroke-width="1.2"/>
<text x="343.6" y="7.5" text-anchor="end" font-size="9.2" font-weight="bold" fill="#222">44.3537</text>
<text x="343.6" y="57.23" text-anchor="end" font-size="9.2" font-weight="bold" fill="#222">40.6985</text>
<text x="343.6" y="106.95" text-anchor="end" font-size="9.2" font-weight="bold" fill="#222">37.0433</text>
<text x="343.6" y="156.68" text-anchor="end" font-size="9.2" font-weight="bold" fill="#222">33.3880</text>
<text x="343.6" y="206.4" text-anchor="end" font-size="9.2" font-weight="bold" fill="#222">29.7328</text>
<text transform="translate(363.4,209.1) rotate(-90)" text-anchor="end" font-size="8.1" font-weight="bold" fill="#222">1</text>
<text transform="translate(373.21,209.1) rotate(-90)" text-anchor="end" font-size="8.1" font-weight="bold" fill="#222">2</text>
<text transform="translate(383.02,209.1) rotate(-90)" text-anchor="end" font-size="8.1" font-weight="bold" fill="#222">3</text>
<text transform="translate(392.83,209.1) rotate(-90)" text-anchor="end" font-size="8.1" font-weight="bold" fill="#222">4</text>
<text transform="translate(402.64,209.1) rotate(-90)" text-anchor="end" font-size="8.1" font-weight="bold" fill="#222">5</text>
<text transform="translate(412.45,209.1) rotate(-90)" text-anchor="end" font-size="8.1" font-weight="bold" fill="#222">6</text>
<text transform="translate(422.26,209.1) rotate(-90)" text-anchor="end" font-size="8.1" font-weight="bold" fill="#222">7</text>
<text transform="translate(432.07,209.1) rotate(-90)" text-anchor="end" font-size="8.1" font-weight="bold" fill="#222">8</text>
<text transform="translate(441.88,209.1) rotate(-90)" text-anchor="end" font-size="8.1" font-weight="bold" fill="#222">9</text>
<text transform="translate(451.69,209.1) rotate(-90)" text-anchor="end" font-size="8.1" font-weight="bold" fill="#222">10</text>
<text transform="translate(461.5,209.1) rotate(-90)" text-anchor="end" font-size="8.1" font-weight="bold" fill="#222">11</text>
<text transform="translate(471.31,209.1) rotate(-90)" text-anchor="end" font-size="8.1" font-weight="bold" fill="#222">12</text>
<text transform="translate(481.12,209.1) rotate(-90)" text-anchor="end" font-size="8.1" font-weight="bold" fill="#222">13</text>
<text transform="translate(490.93,209.1) rotate(-90)" text-anchor="end" font-size="8.1" font-weight="bold" fill="#222">14</text>
<text transform="translate(500.74,209.1) rotate(-90)" text-anchor="end" font-size="8.1" font-weight="bold" fill="#222">15</text>
<text transform="translate(510.55,209.1) rotate(-90)" text-anchor="end" font-size="8.1" font-weight="bold" fill="#222">16</text>
<text transform="translate(520.36,209.1) rotate(-90)" text-anchor="end" font-size="8.1" font-weight="bold" fill="#222">17</text>
<text transform="translate(530.17,209.1) rotate(-90)" text-anchor="end" font-size="8.1" font-weight="bold" fill="#222">18</text>
<text transform="translate(539.98,209.1) rotate(-90)" text-anchor="end" font-size="8.1" font-weight="bold" fill="#222">19</text>
<text transform="translate(549.79,209.1) rotate(-90)" text-anchor="end" font-size="8.1" font-weight="bold" fill="#222">20</text>
<text transform="translate(559.6,209.1) rotate(-90)" text-anchor="end" font-size="8.1" font-weight="bold" fill="#222">21</text>
<text transform="translate(569.41,209.1) rotate(-90)" text-anchor="end" font-size="8.1" font-weight="bold" fill="#222">22</text>
<text transform="translate(579.22,209.1) rotate(-90)" text-anchor="end" font-size="8.1" font-weight="bold" fill="#222">23</text>
<text transform="translate(589.03,209.1) rotate(-90)" text-anchor="end" font-size="8.1" font-weight="bold" fill="#222">24</text>
<text transform="translate(598.84,209.1) rotate(-90)" text-anchor="end" font-size="8.1" font-weight="bold" fill="#222">25</text>
<text x="472.85" y="228.3" text-anchor="middle" font-size="10.35" font-weight="bold" fill="#1a1a1a" transform="translate(0,0)">Damage width</text>
<text transform="translate(310.2,103.3) rotate(-90)" text-anchor="middle" font-size="10.4" font-weight="bold" fill="#1a1a1a">PSNR</text>
<g clip-path="url(#c2)">
<polyline points="360.1,66.7 369.91,202.9 379.72,202.9 389.53,146.7 399.34,103.2 409.15,127 418.96,126.4 428.77,122.2 438.58,122 448.39,122.7 458.2,122.8 468.01,129.2 477.82,131.3 487.63,133.3 497.44,135.8 507.25,141 517.06,144 526.87,148.5 536.68,150.3 546.49,159.1 556.3,159.1 566.11,168.3 575.92,172 585.73,178.2 595.54,182.4" fill="none" stroke="#9cc389" stroke-width="1.5" stroke-linejoin="round"/>
<rect x="357.7" y="64.3" width="4.8" height="4.8" fill="#9cc389"/>
<rect x="367.51" y="200.5" width="4.8" height="4.8" fill="#9cc389"/>
<rect x="377.32" y="200.5" width="4.8" height="4.8" fill="#9cc389"/>
<rect x="387.13" y="144.3" width="4.8" height="4.8" fill="#9cc389"/>
<rect x="396.94" y="100.8" width="4.8" height="4.8" fill="#9cc389"/>
<rect x="406.75" y="124.6" width="4.8" height="4.8" fill="#9cc389"/>
<rect x="416.56" y="124" width="4.8" height="4.8" fill="#9cc389"/>
<rect x="426.37" y="119.8" width="4.8" height="4.8" fill="#9cc389"/>
<rect x="436.18" y="119.6" width="4.8" height="4.8" fill="#9cc389"/>
<rect x="445.99" y="120.3" width="4.8" height="4.8" fill="#9cc389"/>
<rect x="455.8" y="120.4" width="4.8" height="4.8" fill="#9cc389"/>
<rect x="465.61" y="126.8" width="4.8" height="4.8" fill="#9cc389"/>
<rect x="475.42" y="128.9" width="4.8" height="4.8" fill="#9cc389"/>
<rect x="485.23" y="130.9" width="4.8" height="4.8" fill="#9cc389"/>
<rect x="495.04" y="133.4" width="4.8" height="4.8" fill="#9cc389"/>
<rect x="504.85" y="138.6" width="4.8" height="4.8" fill="#9cc389"/>
<rect x="514.66" y="141.6" width="4.8" height="4.8" fill="#9cc389"/>
<rect x="524.47" y="146.1" width="4.8" height="4.8" fill="#9cc389"/>
<rect x="534.28" y="147.9" width="4.8" height="4.8" fill="#9cc389"/>
<rect x="544.09" y="156.7" width="4.8" height="4.8" fill="#9cc389"/>
<rect x="553.9" y="156.7" width="4.8" height="4.8" fill="#9cc389"/>
<rect x="563.71" y="165.9" width="4.8" height="4.8" fill="#9cc389"/>
<rect x="573.52" y="169.6" width="4.8" height="4.8" fill="#9cc389"/>
<rect x="583.33" y="175.8" width="4.8" height="4.8" fill="#9cc389"/>
<rect x="593.14" y="180" width="4.8" height="4.8" fill="#9cc389"/>
<polyline points="360.1,56.5 369.91,112.4 379.72,108.6 389.53,107.4 399.34,109.7 409.15,121 418.96,119.7 428.77,127.8 438.58,128.5 448.39,132.5 458.2,132 468.01,137.3 477.82,140 487.63,142.2 497.44,144.2 507.25,147.7 517.06,151.8 526.87,155.5 536.68,157.3 546.49,164.6 556.3,164.6 566.11,172.3 575.92,176.4 585.73,181.9 595.54,186.1" fill="none" stroke="#7ea6e0" stroke-width="1.5" stroke-linejoin="round"/>
<rect x="357.7" y="54.1" width="4.8" height="4.8" fill="#7ea6e0"/>
<rect x="367.51" y="110" width="4.8" height="4.8" fill="#7ea6e0"/>
<rect x="377.32" y="106.2" width="4.8" height="4.8" fill="#7ea6e0"/>
<rect x="387.13" y="105" width="4.8" height="4.8" fill="#7ea6e0"/>
<rect x="396.94" y="107.3" width="4.8" height="4.8" fill="#7ea6e0"/>
<rect x="406.75" y="118.6" width="4.8" height="4.8" fill="#7ea6e0"/>
<rect x="416.56" y="117.3" width="4.8" height="4.8" fill="#7ea6e0"/>
<rect x="426.37" y="125.4" width="4.8" height="4.8" fill="#7ea6e0"/>
<rect x="436.18" y="126.1" width="4.8" height="4.8" fill="#7ea6e0"/>
<rect x="445.99" y="130.1" width="4.8" height="4.8" fill="#7ea6e0"/>
<rect x="455.8" y="129.6" width="4.8" height="4.8" fill="#7ea6e0"/>
<rect x="465.61" y="134.9" width="4.8" height="4.8" fill="#7ea6e0"/>
<rect x="475.42" y="137.6" width="4.8" height="4.8" fill="#7ea6e0"/>
<rect x="485.23" y="139.8" width="4.8" height="4.8" fill="#7ea6e0"/>
<rect x="495.04" y="141.8" width="4.8" height="4.8" fill="#7ea6e0"/>
<rect x="504.85" y="145.3" width="4.8" height="4.8" fill="#7ea6e0"/>
<rect x="514.66" y="149.4" width="4.8" height="4.8" fill="#7ea6e0"/>
<rect x="524.47" y="153.1" width="4.8" height="4.8" fill="#7ea6e0"/>
<rect x="534.28" y="154.9" width="4.8" height="4.8" fill="#7ea6e0"/>
<rect x="544.09" y="162.2" width="4.8" height="4.8" fill="#7ea6e0"/>
<rect x="553.9" y="162.2" width="4.8" height="4.8" fill="#7ea6e0"/>
<rect x="563.71" y="169.9" width="4.8" height="4.8" fill="#7ea6e0"/>
<rect x="573.52" y="174" width="4.8" height="4.8" fill="#7ea6e0"/>
<rect x="583.33" y="179.5" width="4.8" height="4.8" fill="#7ea6e0"/>
<rect x="593.14" y="183.7" width="4.8" height="4.8" fill="#7ea6e0"/>
<polyline points="360.1,46.5 369.91,65.8 379.72,72.6 389.53,83.8 399.34,90 409.15,102.2 418.96,102.2 428.77,111.5 438.58,112.7 448.39,118.7 458.2,119.5 468.01,123.9 477.82,125.4 487.63,128.1 497.44,129.2 507.25,132 517.06,133.6 526.87,134.6 536.68,134.2 546.49,137.1 556.3,136.6 566.11,139 575.92,139.7 585.73,140.8 595.54,142.1" fill="none" stroke="#f0ad6c" stroke-width="1.5" stroke-linejoin="round"/>
<rect x="357.7" y="44.1" width="4.8" height="4.8" fill="#f0ad6c"/>
<rect x="367.51" y="63.4" width="4.8" height="4.8" fill="#f0ad6c"/>
<rect x="377.32" y="70.2" width="4.8" height="4.8" fill="#f0ad6c"/>
<rect x="387.13" y="81.4" width="4.8" height="4.8" fill="#f0ad6c"/>
<rect x="396.94" y="87.6" width="4.8" height="4.8" fill="#f0ad6c"/>
<rect x="406.75" y="99.8" width="4.8" height="4.8" fill="#f0ad6c"/>
<rect x="416.56" y="99.8" width="4.8" height="4.8" fill="#f0ad6c"/>
<rect x="426.37" y="109.1" width="4.8" height="4.8" fill="#f0ad6c"/>
<rect x="436.18" y="110.3" width="4.8" height="4.8" fill="#f0ad6c"/>
<rect x="445.99" y="116.3" width="4.8" height="4.8" fill="#f0ad6c"/>
<rect x="455.8" y="117.1" width="4.8" height="4.8" fill="#f0ad6c"/>
<rect x="465.61" y="121.5" width="4.8" height="4.8" fill="#f0ad6c"/>
<rect x="475.42" y="123" width="4.8" height="4.8" fill="#f0ad6c"/>
<rect x="485.23" y="125.7" width="4.8" height="4.8" fill="#f0ad6c"/>
<rect x="495.04" y="126.8" width="4.8" height="4.8" fill="#f0ad6c"/>
<rect x="504.85" y="129.6" width="4.8" height="4.8" fill="#f0ad6c"/>
<rect x="514.66" y="131.2" width="4.8" height="4.8" fill="#f0ad6c"/>
<rect x="524.47" y="132.2" width="4.8" height="4.8" fill="#f0ad6c"/>
<rect x="534.28" y="131.8" width="4.8" height="4.8" fill="#f0ad6c"/>
<rect x="544.09" y="134.7" width="4.8" height="4.8" fill="#f0ad6c"/>
<rect x="553.9" y="134.2" width="4.8" height="4.8" fill="#f0ad6c"/>
<rect x="563.71" y="136.6" width="4.8" height="4.8" fill="#f0ad6c"/>
<rect x="573.52" y="137.3" width="4.8" height="4.8" fill="#f0ad6c"/>
<rect x="583.33" y="138.4" width="4.8" height="4.8" fill="#f0ad6c"/>
<rect x="593.14" y="139.7" width="4.8" height="4.8" fill="#f0ad6c"/>
<polyline points="360.1,6 369.91,76.2 379.72,80.2 389.53,86.3 399.34,84.7 409.15,101 418.96,101.5 428.77,109.5 438.58,111.5 448.39,118 458.2,118 468.01,123.2 477.82,125 487.63,126.3 497.44,128.5 507.25,132.7 517.06,134.7 526.87,136.5 536.68,137.5 546.49,140.8 556.3,139.7 566.11,143.9 575.92,144.8 585.73,145.75 595.54,147.6" fill="none" stroke="#2db6e2" stroke-width="1.5" stroke-linejoin="round"/>
<rect x="357.7" y="3.6" width="4.8" height="4.8" fill="#2db6e2"/>
<rect x="367.51" y="73.8" width="4.8" height="4.8" fill="#2db6e2"/>
<rect x="377.32" y="77.8" width="4.8" height="4.8" fill="#2db6e2"/>
<rect x="387.13" y="83.9" width="4.8" height="4.8" fill="#2db6e2"/>
<rect x="396.94" y="82.3" width="4.8" height="4.8" fill="#2db6e2"/>
<rect x="406.75" y="98.6" width="4.8" height="4.8" fill="#2db6e2"/>
<rect x="416.56" y="99.1" width="4.8" height="4.8" fill="#2db6e2"/>
<rect x="426.37" y="107.1" width="4.8" height="4.8" fill="#2db6e2"/>
<rect x="436.18" y="109.1" width="4.8" height="4.8" fill="#2db6e2"/>
<rect x="445.99" y="115.6" width="4.8" height="4.8" fill="#2db6e2"/>
<rect x="455.8" y="115.6" width="4.8" height="4.8" fill="#2db6e2"/>
<rect x="465.61" y="120.8" width="4.8" height="4.8" fill="#2db6e2"/>
<rect x="475.42" y="122.6" width="4.8" height="4.8" fill="#2db6e2"/>
<rect x="485.23" y="123.9" width="4.8" height="4.8" fill="#2db6e2"/>
<rect x="495.04" y="126.1" width="4.8" height="4.8" fill="#2db6e2"/>
<rect x="504.85" y="130.3" width="4.8" height="4.8" fill="#2db6e2"/>
<rect x="514.66" y="132.3" width="4.8" height="4.8" fill="#2db6e2"/>
<rect x="524.47" y="134.1" width="4.8" height="4.8" fill="#2db6e2"/>
<rect x="534.28" y="135.1" width="4.8" height="4.8" fill="#2db6e2"/>
<rect x="544.09" y="138.4" width="4.8" height="4.8" fill="#2db6e2"/>
<rect x="553.9" y="137.3" width="4.8" height="4.8" fill="#2db6e2"/>
<rect x="563.71" y="141.5" width="4.8" height="4.8" fill="#2db6e2"/>
<rect x="573.52" y="142.4" width="4.8" height="4.8" fill="#2db6e2"/>
<rect x="583.33" y="143.35" width="4.8" height="4.8" fill="#2db6e2"/>
<rect x="593.14" y="145.2" width="4.8" height="4.8" fill="#2db6e2"/>
<polyline points="360.1,4 369.91,52.7 379.72,66.4 389.53,72.4 399.34,84.7 409.15,99.9 418.96,99.9 428.77,108.5 438.58,110.7 448.39,117.2 458.2,117.5 468.01,123 477.82,125.3 487.63,128.7 497.44,130.5 507.25,136.5 517.06,139.3 526.87,143 536.68,144.8 546.49,152.2 556.3,151.8 566.11,159.9 575.92,164.1 585.73,167.8 595.54,173.3" fill="none" stroke="#d9716f" stroke-width="1.5" stroke-linejoin="round"/>
<rect x="357.7" y="1.6" width="4.8" height="4.8" fill="#d9716f"/>
<rect x="367.51" y="50.3" width="4.8" height="4.8" fill="#d9716f"/>
<rect x="377.32" y="64" width="4.8" height="4.8" fill="#d9716f"/>
<rect x="387.13" y="70" width="4.8" height="4.8" fill="#d9716f"/>
<rect x="396.94" y="82.3" width="4.8" height="4.8" fill="#d9716f"/>
<rect x="406.75" y="97.5" width="4.8" height="4.8" fill="#d9716f"/>
<rect x="416.56" y="97.5" width="4.8" height="4.8" fill="#d9716f"/>
<rect x="426.37" y="106.1" width="4.8" height="4.8" fill="#d9716f"/>
<rect x="436.18" y="108.3" width="4.8" height="4.8" fill="#d9716f"/>
<rect x="445.99" y="114.8" width="4.8" height="4.8" fill="#d9716f"/>
<rect x="455.8" y="115.1" width="4.8" height="4.8" fill="#d9716f"/>
<rect x="465.61" y="120.6" width="4.8" height="4.8" fill="#d9716f"/>
<rect x="475.42" y="122.9" width="4.8" height="4.8" fill="#d9716f"/>
<rect x="485.23" y="126.3" width="4.8" height="4.8" fill="#d9716f"/>
<rect x="495.04" y="128.1" width="4.8" height="4.8" fill="#d9716f"/>
<rect x="504.85" y="134.1" width="4.8" height="4.8" fill="#d9716f"/>
<rect x="514.66" y="136.9" width="4.8" height="4.8" fill="#d9716f"/>
<rect x="524.47" y="140.6" width="4.8" height="4.8" fill="#d9716f"/>
<rect x="534.28" y="142.4" width="4.8" height="4.8" fill="#d9716f"/>
<rect x="544.09" y="149.8" width="4.8" height="4.8" fill="#d9716f"/>
<rect x="553.9" y="149.4" width="4.8" height="4.8" fill="#d9716f"/>
<rect x="563.71" y="157.5" width="4.8" height="4.8" fill="#d9716f"/>
<rect x="573.52" y="161.7" width="4.8" height="4.8" fill="#d9716f"/>
<rect x="583.33" y="165.4" width="4.8" height="4.8" fill="#d9716f"/>
<rect x="593.14" y="170.9" width="4.8" height="4.8" fill="#d9716f"/>
</g>
<rect x="423.8" y="14.3" width="139" height="80.4" fill="#fff"/>
<line x1="428.7" y1="14.3" x2="428.7" y2="94.7" stroke="#e6e6e6" stroke-width="0.8"/>
<line x1="446.78" y1="14.3" x2="446.78" y2="94.7" stroke="#e6e6e6" stroke-width="0.8"/>
<line x1="464.86" y1="14.3" x2="464.86" y2="94.7" stroke="#e6e6e6" stroke-width="0.8"/>
<line x1="482.94" y1="14.3" x2="482.94" y2="94.7" stroke="#e6e6e6" stroke-width="0.8"/>
<line x1="501.02" y1="14.3" x2="501.02" y2="94.7" stroke="#e6e6e6" stroke-width="0.8"/>
<line x1="519.1" y1="14.3" x2="519.1" y2="94.7" stroke="#e6e6e6" stroke-width="0.8"/>
<line x1="537.18" y1="14.3" x2="537.18" y2="94.7" stroke="#e6e6e6" stroke-width="0.8"/>
<line x1="555.26" y1="14.3" x2="555.26" y2="94.7" stroke="#e6e6e6" stroke-width="0.8"/>
<line x1="423.8" y1="84" x2="562.8" y2="84" stroke="#e6e6e6" stroke-width="0.8"/>
<clipPath id="ic423"><rect x="423.8" y="14.3" width="139" height="80.4"/></clipPath>
<g clip-path="url(#ic423)">
<polyline points="410.62,28.54 428.7,28.3 446.78,41 464.86,45 482.94,48.7 501.02,53 519.1,62.4 537.18,68.4 555.26,76.3 573.34,79.4" fill="none" stroke="#9cc389" stroke-width="1.1"/>
<circle cx="428.7" cy="28.3" r="1.6" fill="#9cc389"/>
<circle cx="446.78" cy="41" r="1.6" fill="#9cc389"/>
<circle cx="464.86" cy="45" r="1.6" fill="#9cc389"/>
<circle cx="482.94" cy="48.7" r="1.6" fill="#9cc389"/>
<circle cx="501.02" cy="53" r="1.6" fill="#9cc389"/>
<circle cx="519.1" cy="62.4" r="1.6" fill="#9cc389"/>
<circle cx="537.18" cy="68.4" r="1.6" fill="#9cc389"/>
<circle cx="555.26" cy="76.3" r="1.6" fill="#9cc389"/>
<polyline points="410.62,46.6 428.7,45.7 446.78,55.3 464.86,60.7 482.94,64.7 501.02,68 519.1,75.3 537.18,82 555.26,89 573.34,92.3" fill="none" stroke="#7ea6e0" stroke-width="1.1"/>
<circle cx="428.7" cy="45.7" r="1.6" fill="#7ea6e0"/>
<circle cx="446.78" cy="55.3" r="1.6" fill="#7ea6e0"/>
<circle cx="464.86" cy="60.7" r="1.6" fill="#7ea6e0"/>
<circle cx="482.94" cy="64.7" r="1.6" fill="#7ea6e0"/>
<circle cx="501.02" cy="68" r="1.6" fill="#7ea6e0"/>
<circle cx="519.1" cy="75.3" r="1.6" fill="#7ea6e0"/>
<circle cx="537.18" cy="82" r="1.6" fill="#7ea6e0"/>
<circle cx="555.26" cy="89" r="1.6" fill="#7ea6e0"/>
<polyline points="410.62,21.16 428.7,22.7 446.78,30.7 464.86,33.5 482.94,38.5 501.02,40.5 519.1,45.7 537.18,48.7 555.26,50.4 573.34,49.73" fill="none" stroke="#f0ad6c" stroke-width="1.1"/>
<circle cx="428.7" cy="22.7" r="1.6" fill="#f0ad6c"/>
<circle cx="446.78" cy="30.7" r="1.6" fill="#f0ad6c"/>
<circle cx="464.86" cy="33.5" r="1.6" fill="#f0ad6c"/>
<circle cx="482.94" cy="38.5" r="1.6" fill="#f0ad6c"/>
<circle cx="501.02" cy="40.5" r="1.6" fill="#f0ad6c"/>
<circle cx="519.1" cy="45.7" r="1.6" fill="#f0ad6c"/>
<circle cx="537.18" cy="48.7" r="1.6" fill="#f0ad6c"/>
<circle cx="555.26" cy="50.4" r="1.6" fill="#f0ad6c"/>
<polyline points="410.62,19.87 428.7,20.5 446.78,29.5 464.86,32.7 482.94,37 501.02,40.7 519.1,47 537.18,50.7 555.26,54 573.34,55.81" fill="none" stroke="#2db6e2" stroke-width="1.1"/>
<circle cx="428.7" cy="20.5" r="1.6" fill="#2db6e2"/>
<circle cx="446.78" cy="29.5" r="1.6" fill="#2db6e2"/>
<circle cx="464.86" cy="32.7" r="1.6" fill="#2db6e2"/>
<circle cx="482.94" cy="37" r="1.6" fill="#2db6e2"/>
<circle cx="501.02" cy="40.7" r="1.6" fill="#2db6e2"/>
<circle cx="519.1" cy="47" r="1.6" fill="#2db6e2"/>
<circle cx="537.18" cy="50.7" r="1.6" fill="#2db6e2"/>
<circle cx="555.26" cy="54" r="1.6" fill="#2db6e2"/>
<polyline points="410.62,18.4 428.7,19.3 446.78,29.7 464.86,34.3 482.94,40 501.02,43 519.1,54 537.18,58.7 555.26,66.3 573.34,69.27" fill="none" stroke="#d9716f" stroke-width="1.1"/>
<circle cx="428.7" cy="19.3" r="1.6" fill="#d9716f"/>
<circle cx="446.78" cy="29.7" r="1.6" fill="#d9716f"/>
<circle cx="464.86" cy="34.3" r="1.6" fill="#d9716f"/>
<circle cx="482.94" cy="40" r="1.6" fill="#d9716f"/>
<circle cx="501.02" cy="43" r="1.6" fill="#d9716f"/>
<circle cx="519.1" cy="54" r="1.6" fill="#d9716f"/>
<circle cx="537.18" cy="58.7" r="1.6" fill="#d9716f"/>
<circle cx="555.26" cy="66.3" r="1.6" fill="#d9716f"/>
</g>
<rect x="423.8" y="14.3" width="139" height="80.4" fill="none" stroke="#0a0aa8" stroke-width="2" stroke-dasharray="7.2 5.6" stroke-dashoffset="4.6"/>
<rect x="453.4" y="111" width="80.2" height="49" fill="none" stroke="#0a0aa8" stroke-width="2" stroke-dasharray="7.2 5.6" stroke-dashoffset="11.6"/>
<path d="M489.6,107.6 L496.4,107.6 L496.4,103.73 L499.9,103.73 L493,99 L486.1,103.73 L489.6,103.73 Z" fill="#1010e6"/>
<rect x="0" y="230.5" width="600" height="17.2" fill="#000"/>
<rect x="0" y="478.9" width="600" height="16.9" fill="#000"/>
<rect x="0" y="693.3" width="600" height="24.7" fill="#000"/>
<line x1="45.5" y1="252.3" x2="295.6" y2="252.3" stroke="#e4e4e4" stroke-width="1"/>
<line x1="45.5" y1="301.88" x2="295.6" y2="301.88" stroke="#e4e4e4" stroke-width="1"/>
<line x1="45.5" y1="351.45" x2="295.6" y2="351.45" stroke="#e4e4e4" stroke-width="1"/>
<line x1="45.5" y1="401.03" x2="295.6" y2="401.03" stroke="#e4e4e4" stroke-width="1"/>
<line x1="45.5" y1="450.6" x2="295.6" y2="450.6" stroke="#e4e4e4" stroke-width="1"/>
<line x1="55.4" y1="252.3" x2="55.4" y2="450.6" stroke="#e4e4e4" stroke-width="1"/>
<line x1="65.4" y1="252.3" x2="65.4" y2="450.6" stroke="#e4e4e4" stroke-width="1"/>
<line x1="75.4" y1="252.3" x2="75.4" y2="450.6" stroke="#e4e4e4" stroke-width="1"/>
<line x1="85.4" y1="252.3" x2="85.4" y2="450.6" stroke="#e4e4e4" stroke-width="1"/>
<line x1="95.4" y1="252.3" x2="95.4" y2="450.6" stroke="#e4e4e4" stroke-width="1"/>
<line x1="105.4" y1="252.3" x2="105.4" y2="450.6" stroke="#e4e4e4" stroke-width="1"/>
<line x1="115.4" y1="252.3" x2="115.4" y2="450.6" stroke="#e4e4e4" stroke-width="1"/>
<line x1="125.4" y1="252.3" x2="125.4" y2="450.6" stroke="#e4e4e4" stroke-width="1"/>
<line x1="135.4" y1="252.3" x2="135.4" y2="450.6" stroke="#e4e4e4" stroke-width="1"/>
<line x1="145.4" y1="252.3" x2="145.4" y2="450.6" stroke="#e4e4e4" stroke-width="1"/>
<line x1="155.4" y1="252.3" x2="155.4" y2="450.6" stroke="#e4e4e4" stroke-width="1"/>
<line x1="165.4" y1="252.3" x2="165.4" y2="450.6" stroke="#e4e4e4" stroke-width="1"/>
<line x1="175.4" y1="252.3" x2="175.4" y2="450.6" stroke="#e4e4e4" stroke-width="1"/>
<line x1="185.4" y1="252.3" x2="185.4" y2="450.6" stroke="#e4e4e4" stroke-width="1"/>
<line x1="195.4" y1="252.3" x2="195.4" y2="450.6" stroke="#e4e4e4" stroke-width="1"/>
<line x1="205.4" y1="252.3" x2="205.4" y2="450.6" stroke="#e4e4e4" stroke-width="1"/>
<line x1="215.4" y1="252.3" x2="215.4" y2="450.6" stroke="#e4e4e4" stroke-width="1"/>
<line x1="225.4" y1="252.3" x2="225.4" y2="450.6" stroke="#e4e4e4" stroke-width="1"/>
<line x1="235.4" y1="252.3" x2="235.4" y2="450.6" stroke="#e4e4e4" stroke-width="1"/>
<line x1="245.4" y1="252.3" x2="245.4" y2="450.6" stroke="#e4e4e4" stroke-width="1"/>
<line x1="255.4" y1="252.3" x2="255.4" y2="450.6" stroke="#e4e4e4" stroke-width="1"/>
<line x1="265.4" y1="252.3" x2="265.4" y2="450.6" stroke="#e4e4e4" stroke-width="1"/>
<line x1="275.4" y1="252.3" x2="275.4" y2="450.6" stroke="#e4e4e4" stroke-width="1"/>
<line x1="285.4" y1="252.3" x2="285.4" y2="450.6" stroke="#e4e4e4" stroke-width="1"/>
<line x1="295.4" y1="252.3" x2="295.4" y2="450.6" stroke="#e4e4e4" stroke-width="1"/>
<line x1="45.5" y1="251.7" x2="45.5" y2="450.6" stroke="#404040" stroke-width="1.3"/>
<line x1="42.5" y1="450.6" x2="296.2" y2="450.6" stroke="#6a6a6a" stroke-width="1.6"/>
<line x1="42.5" y1="252.3" x2="45.5" y2="252.3" stroke="#404040" stroke-width="1.2"/>
<line x1="42.5" y1="301.88" x2="45.5" y2="301.88" stroke="#404040" stroke-width="1.2"/>
<line x1="42.5" y1="351.45" x2="45.5" y2="351.45" stroke="#404040" stroke-width="1.2"/>
<line x1="42.5" y1="401.03" x2="45.5" y2="401.03" stroke="#404040" stroke-width="1.2"/>
<line x1="42.5" y1="450.6" x2="45.5" y2="450.6" stroke="#404040" stroke-width="1.2"/>
<line x1="55.4" y1="450.6" x2="55.4" y2="453.8" stroke="#404040" stroke-width="1.2"/>
<line x1="65.4" y1="450.6" x2="65.4" y2="453.8" stroke="#404040" stroke-width="1.2"/>
<line x1="75.4" y1="450.6" x2="75.4" y2="453.8" stroke="#404040" stroke-width="1.2"/>
<line x1="85.4" y1="450.6" x2="85.4" y2="453.8" stroke="#404040" stroke-width="1.2"/>
<line x1="95.4" y1="450.6" x2="95.4" y2="453.8" stroke="#404040" stroke-width="1.2"/>
<line x1="105.4" y1="450.6" x2="105.4" y2="453.8" stroke="#404040" stroke-width="1.2"/>
<line x1="115.4" y1="450.6" x2="115.4" y2="453.8" stroke="#404040" stroke-width="1.2"/>
<line x1="125.4" y1="450.6" x2="125.4" y2="453.8" stroke="#404040" stroke-width="1.2"/>
<line x1="135.4" y1="450.6" x2="135.4" y2="453.8" stroke="#404040" stroke-width="1.2"/>
<line x1="145.4" y1="450.6" x2="145.4" y2="453.8" stroke="#404040" stroke-width="1.2"/>
<line x1="155.4" y1="450.6" x2="155.4" y2="453.8" stroke="#404040" stroke-width="1.2"/>
<line x1="165.4" y1="450.6" x2="165.4" y2="453.8" stroke="#404040" stroke-width="1.2"/>
<line x1="175.4" y1="450.6" x2="175.4" y2="453.8" stroke="#404040" stroke-width="1.2"/>
<line x1="185.4" y1="450.6" x2="185.4" y2="453.8" stroke="#404040" stroke-width="1.2"/>
<line x1="195.4" y1="450.6" x2="195.4" y2="453.8" stroke="#404040" stroke-width="1.2"/>
<line x1="205.4" y1="450.6" x2="205.4" y2="453.8" stroke="#404040" stroke-width="1.2"/>
<line x1="215.4" y1="450.6" x2="215.4" y2="453.8" stroke="#404040" stroke-width="1.2"/>
<line x1="225.4" y1="450.6" x2="225.4" y2="453.8" stroke="#404040" stroke-width="1.2"/>
<line x1="235.4" y1="450.6" x2="235.4" y2="453.8" stroke="#404040" stroke-width="1.2"/>
<line x1="245.4" y1="450.6" x2="245.4" y2="453.8" stroke="#404040" stroke-width="1.2"/>
<line x1="255.4" y1="450.6" x2="255.4" y2="453.8" stroke="#404040" stroke-width="1.2"/>
<line x1="265.4" y1="450.6" x2="265.4" y2="453.8" stroke="#404040" stroke-width="1.2"/>
<line x1="275.4" y1="450.6" x2="275.4" y2="453.8" stroke="#404040" stroke-width="1.2"/>
<line x1="285.4" y1="450.6" x2="285.4" y2="453.8" stroke="#404040" stroke-width="1.2"/>
<line x1="295.4" y1="450.6" x2="295.4" y2="453.8" stroke="#404040" stroke-width="1.2"/>
<text x="39.6" y="255.8" text-anchor="end" font-size="9.2" font-weight="bold" fill="#222">0.9765</text>
<text x="39.6" y="305.38" text-anchor="end" font-size="9.2" font-weight="bold" fill="#222">0.9352</text>
<text x="39.6" y="354.95" text-anchor="end" font-size="9.2" font-weight="bold" fill="#222">0.8940</text>
<text x="39.6" y="404.53" text-anchor="end" font-size="9.2" font-weight="bold" fill="#222">0.8527</text>
<text x="39.6" y="454.1" text-anchor="end" font-size="9.2" font-weight="bold" fill="#222">0.8114</text>
<text transform="translate(58.7,456.8) rotate(-90)" text-anchor="end" font-size="8.1" font-weight="bold" fill="#222">1</text>
<text transform="translate(68.7,456.8) rotate(-90)" text-anchor="end" font-size="8.1" font-weight="bold" fill="#222">2</text>
<text transform="translate(78.7,456.8) rotate(-90)" text-anchor="end" font-size="8.1" font-weight="bold" fill="#222">3</text>
<text transform="translate(88.7,456.8) rotate(-90)" text-anchor="end" font-size="8.1" font-weight="bold" fill="#222">4</text>
<text transform="translate(98.7,456.8) rotate(-90)" text-anchor="end" font-size="8.1" font-weight="bold" fill="#222">5</text>
<text transform="translate(108.7,456.8) rotate(-90)" text-anchor="end" font-size="8.1" font-weight="bold" fill="#222">6</text>
<text transform="translate(118.7,456.8) rotate(-90)" text-anchor="end" font-size="8.1" font-weight="bold" fill="#222">7</text>
<text transform="translate(128.7,456.8) rotate(-90)" text-anchor="end" font-size="8.1" font-weight="bold" fill="#222">8</text>
<text transform="translate(138.7,456.8) rotate(-90)" text-anchor="end" font-size="8.1" font-weight="bold" fill="#222">9</text>
<text transform="translate(148.7,456.8) rotate(-90)" text-anchor="end" font-size="8.1" font-weight="bold" fill="#222">10</text>
<text transform="translate(158.7,456.8) rotate(-90)" text-anchor="end" font-size="8.1" font-weight="bold" fill="#222">11</text>
<text transform="translate(168.7,456.8) rotate(-90)" text-anchor="end" font-size="8.1" font-weight="bold" fill="#222">12</text>
<text transform="translate(178.7,456.8) rotate(-90)" text-anchor="end" font-size="8.1" font-weight="bold" fill="#222">13</text>
<text transform="translate(188.7,456.8) rotate(-90)" text-anchor="end" font-size="8.1" font-weight="bold" fill="#222">14</text>
<text transform="translate(198.7,456.8) rotate(-90)" text-anchor="end" font-size="8.1" font-weight="bold" fill="#222">15</text>
<text transform="translate(208.7,456.8) rotate(-90)" text-anchor="end" font-size="8.1" font-weight="bold" fill="#222">16</text>
<text transform="translate(218.7,456.8) rotate(-90)" text-anchor="end" font-size="8.1" font-weight="bold" fill="#222">17</text>
<text transform="translate(228.7,456.8) rotate(-90)" text-anchor="end" font-size="8.1" font-weight="bold" fill="#222">18</text>
<text transform="translate(238.7,456.8) rotate(-90)" text-anchor="end" font-size="8.1" font-weight="bold" fill="#222">19</text>
<text transform="translate(248.7,456.8) rotate(-90)" text-anchor="end" font-size="8.1" font-weight="bold" fill="#222">20</text>
<text transform="translate(258.7,456.8) rotate(-90)" text-anchor="end" font-size="8.1" font-weight="bold" fill="#222">21</text>
<text transform="translate(268.7,456.8) rotate(-90)" text-anchor="end" font-size="8.1" font-weight="bold" fill="#222">22</text>
<text transform="translate(278.7,456.8) rotate(-90)" text-anchor="end" font-size="8.1" font-weight="bold" fill="#222">23</text>
<text transform="translate(288.7,456.8) rotate(-90)" text-anchor="end" font-size="8.1" font-weight="bold" fill="#222">24</text>
<text transform="translate(298.7,456.8) rotate(-90)" text-anchor="end" font-size="8.1" font-weight="bold" fill="#222">25</text>
<text x="170.55" y="228.3" text-anchor="middle" font-size="10.35" font-weight="bold" fill="#1a1a1a" transform="translate(0,247.7)">Damage width</text>
<text transform="translate(10.4,351.3) rotate(-90)" text-anchor="middle" font-size="10.4" font-weight="bold" fill="#1a1a1a">SSIM</text>
<g clip-path="url(#c3)">
<polyline points="55.4,282 65.4,450.5 75.4,406.3 85.4,360 95.4,326.7 105.4,340.2 115.4,340.1 125.4,340 135.4,346 145.4,351.6 155.4,351.6 165.4,352 175.4,353 185.4,355 195.4,348 205.4,359.7 215.4,361.5 225.4,363.8 235.4,364.25 245.4,367.7 255.4,366.8 265.4,370.7 275.4,372.5 285.4,374.3 295.4,376.25" fill="none" stroke="#9cc389" stroke-width="1.5" stroke-linejoin="round"/>
<rect x="53" y="279.6" width="4.8" height="4.8" fill="#9cc389"/>
<rect x="63" y="448.1" width="4.8" height="4.8" fill="#9cc389"/>
<rect x="73" y="403.9" width="4.8" height="4.8" fill="#9cc389"/>
<rect x="83" y="357.6" width="4.8" height="4.8" fill="#9cc389"/>
<rect x="93" y="324.3" width="4.8" height="4.8" fill="#9cc389"/>
<rect x="103" y="337.8" width="4.8" height="4.8" fill="#9cc389"/>
<rect x="113" y="337.7" width="4.8" height="4.8" fill="#9cc389"/>
<rect x="123" y="337.6" width="4.8" height="4.8" fill="#9cc389"/>
<rect x="133" y="343.6" width="4.8" height="4.8" fill="#9cc389"/>
<rect x="143" y="349.2" width="4.8" height="4.8" fill="#9cc389"/>
<rect x="153" y="349.2" width="4.8" height="4.8" fill="#9cc389"/>
<rect x="163" y="349.6" width="4.8" height="4.8" fill="#9cc389"/>
<rect x="173" y="350.6" width="4.8" height="4.8" fill="#9cc389"/>
<rect x="183" y="352.6" width="4.8" height="4.8" fill="#9cc389"/>
<rect x="193" y="345.6" width="4.8" height="4.8" fill="#9cc389"/>
<rect x="203" y="357.3" width="4.8" height="4.8" fill="#9cc389"/>
<rect x="213" y="359.1" width="4.8" height="4.8" fill="#9cc389"/>
<rect x="223" y="361.4" width="4.8" height="4.8" fill="#9cc389"/>
<rect x="233" y="361.85" width="4.8" height="4.8" fill="#9cc389"/>
<rect x="243" y="365.3" width="4.8" height="4.8" fill="#9cc389"/>
<rect x="253" y="364.4" width="4.8" height="4.8" fill="#9cc389"/>
<rect x="263" y="368.3" width="4.8" height="4.8" fill="#9cc389"/>
<rect x="273" y="370.1" width="4.8" height="4.8" fill="#9cc389"/>
<rect x="283" y="371.9" width="4.8" height="4.8" fill="#9cc389"/>
<rect x="293" y="373.85" width="4.8" height="4.8" fill="#9cc389"/>
<polyline points="55.4,279.7 65.4,325.8 75.4,328.2 85.4,331.3 95.4,334 105.4,345.2 115.4,345.3 125.4,350.4 135.4,351 145.4,354.5 155.4,354.6 165.4,355.8 175.4,357.5 185.4,359 195.4,361 205.4,363.7 215.4,365 225.4,366.7 235.4,367 245.4,370 255.4,369 265.4,374 275.4,375 285.4,377 295.4,378" fill="none" stroke="#7ea6e0" stroke-width="1.5" stroke-linejoin="round"/>
<rect x="53" y="277.3" width="4.8" height="4.8" fill="#7ea6e0"/>
<rect x="63" y="323.4" width="4.8" height="4.8" fill="#7ea6e0"/>
<rect x="73" y="325.8" width="4.8" height="4.8" fill="#7ea6e0"/>
<rect x="83" y="328.9" width="4.8" height="4.8" fill="#7ea6e0"/>
<rect x="93" y="331.6" width="4.8" height="4.8" fill="#7ea6e0"/>
<rect x="103" y="342.8" width="4.8" height="4.8" fill="#7ea6e0"/>
<rect x="113" y="342.9" width="4.8" height="4.8" fill="#7ea6e0"/>
<rect x="123" y="348" width="4.8" height="4.8" fill="#7ea6e0"/>
<rect x="133" y="348.6" width="4.8" height="4.8" fill="#7ea6e0"/>
<rect x="143" y="352.1" width="4.8" height="4.8" fill="#7ea6e0"/>
<rect x="153" y="352.2" width="4.8" height="4.8" fill="#7ea6e0"/>
<rect x="163" y="353.4" width="4.8" height="4.8" fill="#7ea6e0"/>
<rect x="173" y="355.1" width="4.8" height="4.8" fill="#7ea6e0"/>
<rect x="183" y="356.6" width="4.8" height="4.8" fill="#7ea6e0"/>
<rect x="193" y="358.6" width="4.8" height="4.8" fill="#7ea6e0"/>
<rect x="203" y="361.3" width="4.8" height="4.8" fill="#7ea6e0"/>
<rect x="213" y="362.6" width="4.8" height="4.8" fill="#7ea6e0"/>
<rect x="223" y="364.3" width="4.8" height="4.8" fill="#7ea6e0"/>
<rect x="233" y="364.6" width="4.8" height="4.8" fill="#7ea6e0"/>
<rect x="243" y="367.6" width="4.8" height="4.8" fill="#7ea6e0"/>
<rect x="253" y="366.6" width="4.8" height="4.8" fill="#7ea6e0"/>
<rect x="263" y="371.6" width="4.8" height="4.8" fill="#7ea6e0"/>
<rect x="273" y="372.6" width="4.8" height="4.8" fill="#7ea6e0"/>
<rect x="283" y="374.6" width="4.8" height="4.8" fill="#7ea6e0"/>
<rect x="293" y="375.6" width="4.8" height="4.8" fill="#7ea6e0"/>
<polyline points="55.4,284 65.4,302.3 75.4,312.5 85.4,325.2 95.4,333.5 105.4,350.3 115.4,351.1 125.4,361.5 135.4,365.5 145.4,370 155.4,372.5 165.4,376.7 175.4,377.5 185.4,378.3 195.4,380.3 205.4,382 215.4,383.5 225.4,384.5 235.4,384.2 245.4,385.7 255.4,384.8 265.4,385.7 275.4,386 285.4,386 295.4,386.75" fill="none" stroke="#f0ad6c" stroke-width="1.5" stroke-linejoin="round"/>
<rect x="53" y="281.6" width="4.8" height="4.8" fill="#f0ad6c"/>
<rect x="63" y="299.9" width="4.8" height="4.8" fill="#f0ad6c"/>
<rect x="73" y="310.1" width="4.8" height="4.8" fill="#f0ad6c"/>
<rect x="83" y="322.8" width="4.8" height="4.8" fill="#f0ad6c"/>
<rect x="93" y="331.1" width="4.8" height="4.8" fill="#f0ad6c"/>
<rect x="103" y="347.9" width="4.8" height="4.8" fill="#f0ad6c"/>
<rect x="113" y="348.7" width="4.8" height="4.8" fill="#f0ad6c"/>
<rect x="123" y="359.1" width="4.8" height="4.8" fill="#f0ad6c"/>
<rect x="133" y="363.1" width="4.8" height="4.8" fill="#f0ad6c"/>
<rect x="143" y="367.6" width="4.8" height="4.8" fill="#f0ad6c"/>
<rect x="153" y="370.1" width="4.8" height="4.8" fill="#f0ad6c"/>
<rect x="163" y="374.3" width="4.8" height="4.8" fill="#f0ad6c"/>
<rect x="173" y="375.1" width="4.8" height="4.8" fill="#f0ad6c"/>
<rect x="183" y="375.9" width="4.8" height="4.8" fill="#f0ad6c"/>
<rect x="193" y="377.9" width="4.8" height="4.8" fill="#f0ad6c"/>
<rect x="203" y="379.6" width="4.8" height="4.8" fill="#f0ad6c"/>
<rect x="213" y="381.1" width="4.8" height="4.8" fill="#f0ad6c"/>
<rect x="223" y="382.1" width="4.8" height="4.8" fill="#f0ad6c"/>
<rect x="233" y="381.8" width="4.8" height="4.8" fill="#f0ad6c"/>
<rect x="243" y="383.3" width="4.8" height="4.8" fill="#f0ad6c"/>
<rect x="253" y="382.4" width="4.8" height="4.8" fill="#f0ad6c"/>
<rect x="263" y="383.3" width="4.8" height="4.8" fill="#f0ad6c"/>
<rect x="273" y="383.6" width="4.8" height="4.8" fill="#f0ad6c"/>
<rect x="283" y="383.6" width="4.8" height="4.8" fill="#f0ad6c"/>
<rect x="293" y="384.35" width="4.8" height="4.8" fill="#f0ad6c"/>
<polyline points="55.4,254.2 65.4,295.8 75.4,302.5 85.4,311.7 95.4,314.2 105.4,330.8 115.4,330.7 125.4,341.1 135.4,343.4 145.4,351 155.4,351.6 165.4,356.7 175.4,358.2 185.4,360.3 195.4,362.5 205.4,365 215.4,367.4 225.4,369.5 235.4,369.5 245.4,372.2 255.4,371.3 265.4,374.75 275.4,375.5 285.4,377 295.4,377.75" fill="none" stroke="#2db6e2" stroke-width="1.5" stroke-linejoin="round"/>
<rect x="53" y="251.8" width="4.8" height="4.8" fill="#2db6e2"/>
<rect x="63" y="293.4" width="4.8" height="4.8" fill="#2db6e2"/>
<rect x="73" y="300.1" width="4.8" height="4.8" fill="#2db6e2"/>
<rect x="83" y="309.3" width="4.8" height="4.8" fill="#2db6e2"/>
<rect x="93" y="311.8" width="4.8" height="4.8" fill="#2db6e2"/>
<rect x="103" y="328.4" width="4.8" height="4.8" fill="#2db6e2"/>
<rect x="113" y="328.3" width="4.8" height="4.8" fill="#2db6e2"/>
<rect x="123" y="338.7" width="4.8" height="4.8" fill="#2db6e2"/>
<rect x="133" y="341" width="4.8" height="4.8" fill="#2db6e2"/>
<rect x="143" y="348.6" width="4.8" height="4.8" fill="#2db6e2"/>
<rect x="153" y="349.2" width="4.8" height="4.8" fill="#2db6e2"/>
<rect x="163" y="354.3" width="4.8" height="4.8" fill="#2db6e2"/>
<rect x="173" y="355.8" width="4.8" height="4.8" fill="#2db6e2"/>
<rect x="183" y="357.9" width="4.8" height="4.8" fill="#2db6e2"/>
<rect x="193" y="360.1" width="4.8" height="4.8" fill="#2db6e2"/>
<rect x="203" y="362.6" width="4.8" height="4.8" fill="#2db6e2"/>
<rect x="213" y="365" width="4.8" height="4.8" fill="#2db6e2"/>
<rect x="223" y="367.1" width="4.8" height="4.8" fill="#2db6e2"/>
<rect x="233" y="367.1" width="4.8" height="4.8" fill="#2db6e2"/>
<rect x="243" y="369.8" width="4.8" height="4.8" fill="#2db6e2"/>
<rect x="253" y="368.9" width="4.8" height="4.8" fill="#2db6e2"/>
<rect x="263" y="372.35" width="4.8" height="4.8" fill="#2db6e2"/>
<rect x="273" y="373.1" width="4.8" height="4.8" fill="#2db6e2"/>
<rect x="283" y="374.6" width="4.8" height="4.8" fill="#2db6e2"/>
<rect x="293" y="375.35" width="4.8" height="4.8" fill="#2db6e2"/>
<polyline points="55.4,252.4 65.4,285.8 75.4,299.7 85.4,309.2 95.4,311.7 105.4,327.5 115.4,327.1 125.4,336.8 135.4,339.5 145.4,346 155.4,346.6 165.4,345.3 175.4,345.9 185.4,347 195.4,357 205.4,350 215.4,352.6 225.4,355.2 235.4,355.2 245.4,359.7 255.4,358.7 265.4,363.2 275.4,364.7 285.4,368 295.4,369.2" fill="none" stroke="#d9716f" stroke-width="1.5" stroke-linejoin="round"/>
<rect x="53" y="250" width="4.8" height="4.8" fill="#d9716f"/>
<rect x="63" y="283.4" width="4.8" height="4.8" fill="#d9716f"/>
<rect x="73" y="297.3" width="4.8" height="4.8" fill="#d9716f"/>
<rect x="83" y="306.8" width="4.8" height="4.8" fill="#d9716f"/>
<rect x="93" y="309.3" width="4.8" height="4.8" fill="#d9716f"/>
<rect x="103" y="325.1" width="4.8" height="4.8" fill="#d9716f"/>
<rect x="113" y="324.7" width="4.8" height="4.8" fill="#d9716f"/>
<rect x="123" y="334.4" width="4.8" height="4.8" fill="#d9716f"/>
<rect x="133" y="337.1" width="4.8" height="4.8" fill="#d9716f"/>
<rect x="143" y="343.6" width="4.8" height="4.8" fill="#d9716f"/>
<rect x="153" y="344.2" width="4.8" height="4.8" fill="#d9716f"/>
<rect x="163" y="342.9" width="4.8" height="4.8" fill="#d9716f"/>
<rect x="173" y="343.5" width="4.8" height="4.8" fill="#d9716f"/>
<rect x="183" y="344.6" width="4.8" height="4.8" fill="#d9716f"/>
<rect x="193" y="354.6" width="4.8" height="4.8" fill="#d9716f"/>
<rect x="203" y="347.6" width="4.8" height="4.8" fill="#d9716f"/>
<rect x="213" y="350.2" width="4.8" height="4.8" fill="#d9716f"/>
<rect x="223" y="352.8" width="4.8" height="4.8" fill="#d9716f"/>
<rect x="233" y="352.8" width="4.8" height="4.8" fill="#d9716f"/>
<rect x="243" y="357.3" width="4.8" height="4.8" fill="#d9716f"/>
<rect x="253" y="356.3" width="4.8" height="4.8" fill="#d9716f"/>
<rect x="263" y="360.8" width="4.8" height="4.8" fill="#d9716f"/>
<rect x="273" y="362.3" width="4.8" height="4.8" fill="#d9716f"/>
<rect x="283" y="365.6" width="4.8" height="4.8" fill="#d9716f"/>
<rect x="293" y="366.8" width="4.8" height="4.8" fill="#d9716f"/>
</g>
<rect x="149" y="253.6" width="112.3" height="71.1" fill="#fff"/>
<line x1="155.9" y1="253.6" x2="155.9" y2="324.7" stroke="#e6e6e6" stroke-width="0.8"/>
<line x1="172.47" y1="253.6" x2="172.47" y2="324.7" stroke="#e6e6e6" stroke-width="0.8"/>
<line x1="189.04" y1="253.6" x2="189.04" y2="324.7" stroke="#e6e6e6" stroke-width="0.8"/>
<line x1="205.61" y1="253.6" x2="205.61" y2="324.7" stroke="#e6e6e6" stroke-width="0.8"/>
<line x1="222.18" y1="253.6" x2="222.18" y2="324.7" stroke="#e6e6e6" stroke-width="0.8"/>
<line x1="238.75" y1="253.6" x2="238.75" y2="324.7" stroke="#e6e6e6" stroke-width="0.8"/>
<line x1="255.32" y1="253.6" x2="255.32" y2="324.7" stroke="#e6e6e6" stroke-width="0.8"/>
<line x1="149" y1="266.3" x2="261.3" y2="266.3" stroke="#e6e6e6" stroke-width="0.8"/>
<clipPath id="ic149"><rect x="149" y="253.6" width="112.3" height="71.1"/></clipPath>
<g clip-path="url(#ic149)">
<polyline points="139.33,267 155.9,269.1 172.47,272.9 189.04,260.3 205.61,280.6 222.18,284 238.75,287.25 255.32,287.9 271.89,289.6" fill="none" stroke="#9cc389" stroke-width="1.1"/>
<circle cx="155.9" cy="269.1" r="1.6" fill="#9cc389"/>
<circle cx="172.47" cy="272.9" r="1.6" fill="#9cc389"/>
<circle cx="189.04" cy="260.3" r="1.6" fill="#9cc389"/>
<circle cx="205.61" cy="280.6" r="1.6" fill="#9cc389"/>
<circle cx="222.18" cy="284" r="1.6" fill="#9cc389"/>
<circle cx="238.75" cy="287.25" r="1.6" fill="#9cc389"/>
<circle cx="255.32" cy="287.9" r="1.6" fill="#9cc389"/>
<polyline points="139.33,276 155.9,277.1 172.47,279.1 189.04,280.6 205.61,284.6 222.18,287.9 238.75,291.6 255.32,291.6 271.89,293" fill="none" stroke="#7ea6e0" stroke-width="1.1"/>
<circle cx="155.9" cy="277.1" r="1.6" fill="#7ea6e0"/>
<circle cx="172.47" cy="279.1" r="1.6" fill="#7ea6e0"/>
<circle cx="189.04" cy="280.6" r="1.6" fill="#7ea6e0"/>
<circle cx="205.61" cy="284.6" r="1.6" fill="#7ea6e0"/>
<circle cx="222.18" cy="287.9" r="1.6" fill="#7ea6e0"/>
<circle cx="238.75" cy="291.6" r="1.6" fill="#7ea6e0"/>
<circle cx="255.32" cy="291.6" r="1.6" fill="#7ea6e0"/>
<polyline points="139.33,307.5 155.9,308.8 172.47,310.6 189.04,314.1 205.61,316.6 222.18,318.7 238.75,320.4 255.32,319.1 271.89,320.5" fill="none" stroke="#f0ad6c" stroke-width="1.1"/>
<circle cx="155.9" cy="308.8" r="1.6" fill="#f0ad6c"/>
<circle cx="172.47" cy="310.6" r="1.6" fill="#f0ad6c"/>
<circle cx="189.04" cy="314.1" r="1.6" fill="#f0ad6c"/>
<circle cx="205.61" cy="316.6" r="1.6" fill="#f0ad6c"/>
<circle cx="222.18" cy="318.7" r="1.6" fill="#f0ad6c"/>
<circle cx="238.75" cy="320.4" r="1.6" fill="#f0ad6c"/>
<circle cx="255.32" cy="319.1" r="1.6" fill="#f0ad6c"/>
<polyline points="139.33,275.5 155.9,277.1 172.47,281.1 189.04,284.6 205.61,289.7 222.18,292.7 238.75,295.9 255.32,296.6 271.89,297.8" fill="none" stroke="#2db6e2" stroke-width="1.1"/>
<circle cx="155.9" cy="277.1" r="1.6" fill="#2db6e2"/>
<circle cx="172.47" cy="281.1" r="1.6" fill="#2db6e2"/>
<circle cx="189.04" cy="284.6" r="1.6" fill="#2db6e2"/>
<circle cx="205.61" cy="289.7" r="1.6" fill="#2db6e2"/>
<circle cx="222.18" cy="292.7" r="1.6" fill="#2db6e2"/>
<circle cx="238.75" cy="295.9" r="1.6" fill="#2db6e2"/>
<circle cx="255.32" cy="296.6" r="1.6" fill="#2db6e2"/>
<polyline points="139.33,256 155.9,256.9 172.47,258.9 189.04,275.2 205.61,264.9 222.18,268.4 238.75,272.1 255.32,272.1 271.89,274" fill="none" stroke="#d9716f" stroke-width="1.1"/>
<circle cx="155.9" cy="256.9" r="1.6" fill="#d9716f"/>
<circle cx="172.47" cy="258.9" r="1.6" fill="#d9716f"/>
<circle cx="189.04" cy="275.2" r="1.6" fill="#d9716f"/>
<circle cx="205.61" cy="264.9" r="1.6" fill="#d9716f"/>
<circle cx="222.18" cy="268.4" r="1.6" fill="#d9716f"/>
<circle cx="238.75" cy="272.1" r="1.6" fill="#d9716f"/>
<circle cx="255.32" cy="272.1" r="1.6" fill="#d9716f"/>
</g>
<rect x="149" y="253.6" width="112.3" height="71.1" fill="none" stroke="#0a0aa8" stroke-width="2" stroke-dasharray="7.2 5.6" stroke-dashoffset="8.2"/>
<rect x="170" y="339" width="71.2" height="55.7" fill="none" stroke="#0a0aa8" stroke-width="2" stroke-dasharray="7.2 5.6" stroke-dashoffset="5.8"/>
<path d="M202,335.4 L208.8,335.4 L208.8,331.62 L212.3,331.62 L205.4,327 L198.5,331.62 L202,331.62 Z" fill="#1010e6"/>
<line x1="354.2" y1="252" x2="595.4" y2="252" stroke="#e4e4e4" stroke-width="1"/>
<line x1="354.2" y1="301.5" x2="595.4" y2="301.5" stroke="#e4e4e4" stroke-width="1"/>
<line x1="354.2" y1="351" x2="595.4" y2="351" stroke="#e4e4e4" stroke-width="1"/>
<line x1="354.2" y1="400.5" x2="595.4" y2="400.5" stroke="#e4e4e4" stroke-width="1"/>
<line x1="354.2" y1="450" x2="595.4" y2="450" stroke="#e4e4e4" stroke-width="1"/>
<line x1="364.2" y1="252" x2="364.2" y2="450" stroke="#e4e4e4" stroke-width="1"/>
<line x1="373.83" y1="252" x2="373.83" y2="450" stroke="#e4e4e4" stroke-width="1"/>
<line x1="383.46" y1="252" x2="383.46" y2="450" stroke="#e4e4e4" stroke-width="1"/>
<line x1="393.09" y1="252" x2="393.09" y2="450" stroke="#e4e4e4" stroke-width="1"/>
<line x1="402.72" y1="252" x2="402.72" y2="450" stroke="#e4e4e4" stroke-width="1"/>
<line x1="412.35" y1="252" x2="412.35" y2="450" stroke="#e4e4e4" stroke-width="1"/>
<line x1="421.98" y1="252" x2="421.98" y2="450" stroke="#e4e4e4" stroke-width="1"/>
<line x1="431.61" y1="252" x2="431.61" y2="450" stroke="#e4e4e4" stroke-width="1"/>
<line x1="441.24" y1="252" x2="441.24" y2="450" stroke="#e4e4e4" stroke-width="1"/>
<line x1="450.87" y1="252" x2="450.87" y2="450" stroke="#e4e4e4" stroke-width="1"/>
<line x1="460.5" y1="252" x2="460.5" y2="450" stroke="#e4e4e4" stroke-width="1"/>
<line x1="470.13" y1="252" x2="470.13" y2="450" stroke="#e4e4e4" stroke-width="1"/>
<line x1="479.76" y1="252" x2="479.76" y2="450" stroke="#e4e4e4" stroke-width="1"/>
<line x1="489.39" y1="252" x2="489.39" y2="450" stroke="#e4e4e4" stroke-width="1"/>
<line x1="499.02" y1="252" x2="499.02" y2="450" stroke="#e4e4e4" stroke-width="1"/>
<line x1="508.65" y1="252" x2="508.65" y2="450" stroke="#e4e4e4" stroke-width="1"/>
<line x1="518.28" y1="252" x2="518.28" y2="450" stroke="#e4e4e4" stroke-width="1"/>
<line x1="527.91" y1="252" x2="527.91" y2="450" stroke="#e4e4e4" stroke-width="1"/>
<line x1="537.54" y1="252" x2="537.54" y2="450" stroke="#e4e4e4" stroke-width="1"/>
<line x1="547.17" y1="252" x2="547.17" y2="450" stroke="#e4e4e4" stroke-width="1"/>
<line x1="556.8" y1="252" x2="556.8" y2="450" stroke="#e4e4e4" stroke-width="1"/>
<line x1="566.43" y1="252" x2="566.43" y2="450" stroke="#e4e4e4" stroke-width="1"/>
<line x1="576.06" y1="252" x2="576.06" y2="450" stroke="#e4e4e4" stroke-width="1"/>
<line x1="585.69" y1="252" x2="585.69" y2="450" stroke="#e4e4e4" stroke-width="1"/>
<line x1="595.32" y1="252" x2="595.32" y2="450" stroke="#e4e4e4" stroke-width="1"/>
<line x1="354.2" y1="251.4" x2="354.2" y2="450" stroke="#404040" stroke-width="1.3"/>
<line x1="351.2" y1="450" x2="596" y2="450" stroke="#6a6a6a" stroke-width="1.6"/>
<line x1="351.2" y1="252" x2="354.2" y2="252" stroke="#404040" stroke-width="1.2"/>
<line x1="351.2" y1="301.5" x2="354.2" y2="301.5" stroke="#404040" stroke-width="1.2"/>
<line x1="351.2" y1="351" x2="354.2" y2="351" stroke="#404040" stroke-width="1.2"/>
<line x1="351.2" y1="400.5" x2="354.2" y2="400.5" stroke="#404040" stroke-width="1.2"/>
<line x1="351.2" y1="450" x2="354.2" y2="450" stroke="#404040" stroke-width="1.2"/>
<line x1="364.2" y1="450" x2="364.2" y2="453.2" stroke="#404040" stroke-width="1.2"/>
<line x1="373.83" y1="450" x2="373.83" y2="453.2" stroke="#404040" stroke-width="1.2"/>
<line x1="383.46" y1="450" x2="383.46" y2="453.2" stroke="#404040" stroke-width="1.2"/>
<line x1="393.09" y1="450" x2="393.09" y2="453.2" stroke="#404040" stroke-width="1.2"/>
<line x1="402.72" y1="450" x2="402.72" y2="453.2" stroke="#404040" stroke-width="1.2"/>
<line x1="412.35" y1="450" x2="412.35" y2="453.2" stroke="#404040" stroke-width="1.2"/>
<line x1="421.98" y1="450" x2="421.98" y2="453.2" stroke="#404040" stroke-width="1.2"/>
<line x1="431.61" y1="450" x2="431.61" y2="453.2" stroke="#404040" stroke-width="1.2"/>
<line x1="441.24" y1="450" x2="441.24" y2="453.2" stroke="#404040" stroke-width="1.2"/>
<line x1="450.87" y1="450" x2="450.87" y2="453.2" stroke="#404040" stroke-width="1.2"/>
<line x1="460.5" y1="450" x2="460.5" y2="453.2" stroke="#404040" stroke-width="1.2"/>
<line x1="470.13" y1="450" x2="470.13" y2="453.2" stroke="#404040" stroke-width="1.2"/>
<line x1="479.76" y1="450" x2="479.76" y2="453.2" stroke="#404040" stroke-width="1.2"/>
<line x1="489.39" y1="450" x2="489.39" y2="453.2" stroke="#404040" stroke-width="1.2"/>
<line x1="499.02" y1="450" x2="499.02" y2="453.2" stroke="#404040" stroke-width="1.2"/>
<line x1="508.65" y1="450" x2="508.65" y2="453.2" stroke="#404040" stroke-width="1.2"/>
<line x1="518.28" y1="450" x2="518.28" y2="453.2" stroke="#404040" stroke-width="1.2"/>
<line x1="527.91" y1="450" x2="527.91" y2="453.2" stroke="#404040" stroke-width="1.2"/>
<line x1="537.54" y1="450" x2="537.54" y2="453.2" stroke="#404040" stroke-width="1.2"/>
<line x1="547.17" y1="450" x2="547.17" y2="453.2" stroke="#404040" stroke-width="1.2"/>
<line x1="556.8" y1="450" x2="556.8" y2="453.2" stroke="#404040" stroke-width="1.2"/>
<line x1="566.43" y1="450" x2="566.43" y2="453.2" stroke="#404040" stroke-width="1.2"/>
<line x1="576.06" y1="450" x2="576.06" y2="453.2" stroke="#404040" stroke-width="1.2"/>
<line x1="585.69" y1="450" x2="585.69" y2="453.2" stroke="#404040" stroke-width="1.2"/>
<line x1="595.32" y1="450" x2="595.32" y2="453.2" stroke="#404040" stroke-width="1.2"/>
<text x="348.8" y="255.5" text-anchor="end" font-size="9.2" font-weight="bold" fill="#222">57.6781</text>
<text x="348.8" y="305" text-anchor="end" font-size="9.2" font-weight="bold" fill="#222">44.2428</text>
<text x="348.8" y="354.5" text-anchor="end" font-size="9.2" font-weight="bold" fill="#222">30.8075</text>
<text x="348.8" y="404" text-anchor="end" font-size="9.2" font-weight="bold" fill="#222">17.3721</text>
<text x="348.8" y="453.5" text-anchor="end" font-size="9.2" font-weight="bold" fill="#222">3.9368</text>
<text transform="translate(367.5,456.2) rotate(-90)" text-anchor="end" font-size="8.1" font-weight="bold" fill="#222">1</text>
<text transform="translate(377.13,456.2) rotate(-90)" text-anchor="end" font-size="8.1" font-weight="bold" fill="#222">2</text>
<text transform="translate(386.76,456.2) rotate(-90)" text-anchor="end" font-size="8.1" font-weight="bold" fill="#222">3</text>
<text transform="translate(396.39,456.2) rotate(-90)" text-anchor="end" font-size="8.1" font-weight="bold" fill="#222">4</text>
<text transform="translate(406.02,456.2) rotate(-90)" text-anchor="end" font-size="8.1" font-weight="bold" fill="#222">5</text>
<text transform="translate(415.65,456.2) rotate(-90)" text-anchor="end" font-size="8.1" font-weight="bold" fill="#222">6</text>
<text transform="translate(425.28,456.2) rotate(-90)" text-anchor="end" font-size="8.1" font-weight="bold" fill="#222">7</text>
<text transform="translate(434.91,456.2) rotate(-90)" text-anchor="end" font-size="8.1" font-weight="bold" fill="#222">8</text>
<text transform="translate(444.54,456.2) rotate(-90)" text-anchor="end" font-size="8.1" font-weight="bold" fill="#222">9</text>
<text transform="translate(454.17,456.2) rotate(-90)" text-anchor="end" font-size="8.1" font-weight="bold" fill="#222">10</text>
<text transform="translate(463.8,456.2) rotate(-90)" text-anchor="end" font-size="8.1" font-weight="bold" fill="#222">11</text>
<text transform="translate(473.43,456.2) rotate(-90)" text-anchor="end" font-size="8.1" font-weight="bold" fill="#222">12</text>
<text transform="translate(483.06,456.2) rotate(-90)" text-anchor="end" font-size="8.1" font-weight="bold" fill="#222">13</text>
<text transform="translate(492.69,456.2) rotate(-90)" text-anchor="end" font-size="8.1" font-weight="bold" fill="#222">14</text>
<text transform="translate(502.32,456.2) rotate(-90)" text-anchor="end" font-size="8.1" font-weight="bold" fill="#222">15</text>
<text transform="translate(511.95,456.2) rotate(-90)" text-anchor="end" font-size="8.1" font-weight="bold" fill="#222">16</text>
<text transform="translate(521.58,456.2) rotate(-90)" text-anchor="end" font-size="8.1" font-weight="bold" fill="#222">17</text>
<text transform="translate(531.21,456.2) rotate(-90)" text-anchor="end" font-size="8.1" font-weight="bold" fill="#222">18</text>
<text transform="translate(540.84,456.2) rotate(-90)" text-anchor="end" font-size="8.1" font-weight="bold" fill="#222">19</text>
<text transform="translate(550.47,456.2) rotate(-90)" text-anchor="end" font-size="8.1" font-weight="bold" fill="#222">20</text>
<text transform="translate(560.1,456.2) rotate(-90)" text-anchor="end" font-size="8.1" font-weight="bold" fill="#222">21</text>
<text transform="translate(569.73,456.2) rotate(-90)" text-anchor="end" font-size="8.1" font-weight="bold" fill="#222">22</text>
<text transform="translate(579.36,456.2) rotate(-90)" text-anchor="end" font-size="8.1" font-weight="bold" fill="#222">23</text>
<text transform="translate(588.99,456.2) rotate(-90)" text-anchor="end" font-size="8.1" font-weight="bold" fill="#222">24</text>
<text transform="translate(598.62,456.2) rotate(-90)" text-anchor="end" font-size="8.1" font-weight="bold" fill="#222">25</text>
<text x="474.8" y="228.3" text-anchor="middle" font-size="10.35" font-weight="bold" fill="#1a1a1a" transform="translate(0,247.1)">Damage width</text>
<text transform="translate(312,351) rotate(-90)" text-anchor="middle" font-size="10.8" font-weight="bold" fill="#1a1a1a">VL<tspan font-size="7.5" dy="3">X</tspan><tspan dy="-3"> mean</tspan></text>
<g clip-path="url(#c4)">
</g>
<line x1="354.2" y1="276.6" x2="595.2" y2="276.6" stroke="#9d8fcf" stroke-width="1.6"/>
<text x="502" y="289.6" font-size="9.1" font-weight="bold" fill="#1a1a1a">VL<tspan font-size="6.5" dy="2.2">Y</tspan><tspan dy="-2.2" dx="1">  mean= 50.9208</tspan></text>
<g clip-path="url(#c4)">
<polyline points="364.2,443 373.83,437.6 383.46,437.6 393.09,443.6 402.72,445 412.35,445 421.98,445 431.61,446 441.24,446 450.87,447 460.5,447 470.13,447.6 479.76,448 489.39,448 499.02,448.2 508.65,448.4 518.28,448.6 527.91,448.8 537.54,449 547.17,449.2 556.8,449.3 566.43,449.5 576.06,449.6 585.69,449.8 595.32,450" fill="none" stroke="#9cc389" stroke-width="1.5" stroke-linejoin="round"/>
<rect x="361.8" y="440.6" width="4.8" height="4.8" fill="#9cc389"/>
<rect x="371.43" y="435.2" width="4.8" height="4.8" fill="#9cc389"/>
<rect x="381.06" y="435.2" width="4.8" height="4.8" fill="#9cc389"/>
<rect x="390.69" y="441.2" width="4.8" height="4.8" fill="#9cc389"/>
<rect x="400.32" y="442.6" width="4.8" height="4.8" fill="#9cc389"/>
<rect x="409.95" y="442.6" width="4.8" height="4.8" fill="#9cc389"/>
<rect x="419.58" y="442.6" width="4.8" height="4.8" fill="#9cc389"/>
<rect x="429.21" y="443.6" width="4.8" height="4.8" fill="#9cc389"/>
<rect x="438.84" y="443.6" width="4.8" height="4.8" fill="#9cc389"/>
<rect x="448.47" y="444.6" width="4.8" height="4.8" fill="#9cc389"/>
<rect x="458.1" y="444.6" width="4.8" height="4.8" fill="#9cc389"/>
<rect x="467.73" y="445.2" width="4.8" height="4.8" fill="#9cc389"/>
<rect x="477.36" y="445.6" width="4.8" height="4.8" fill="#9cc389"/>
<rect x="486.99" y="445.6" width="4.8" height="4.8" fill="#9cc389"/>
<rect x="496.62" y="445.8" width="4.8" height="4.8" fill="#9cc389"/>
<rect x="506.25" y="446" width="4.8" height="4.8" fill="#9cc389"/>
<rect x="515.88" y="446.2" width="4.8" height="4.8" fill="#9cc389"/>
<rect x="525.51" y="446.4" width="4.8" height="4.8" fill="#9cc389"/>
<rect x="535.14" y="446.6" width="4.8" height="4.8" fill="#9cc389"/>
<rect x="544.77" y="446.8" width="4.8" height="4.8" fill="#9cc389"/>
<rect x="554.4" y="446.9" width="4.8" height="4.8" fill="#9cc389"/>
<rect x="564.03" y="447.1" width="4.8" height="4.8" fill="#9cc389"/>
<rect x="573.66" y="447.2" width="4.8" height="4.8" fill="#9cc389"/>
<rect x="583.29" y="447.4" width="4.8" height="4.8" fill="#9cc389"/>
<rect x="592.92" y="447.6" width="4.8" height="4.8" fill="#9cc389"/>
<polyline points="364.2,420 373.83,421 383.46,422.4 393.09,423.6 402.72,424.4 412.35,426 421.98,426 431.61,427.4 441.24,427.6 450.87,429 460.5,429 470.13,429.9 479.76,430.4 489.39,431 499.02,431.5 508.65,432.6 518.28,433.3 527.91,433.3 537.54,433.3 547.17,434.2 556.8,434.2 566.43,434.4 576.06,434.9 585.69,434.9 595.32,435.6" fill="none" stroke="#7ea6e0" stroke-width="1.5" stroke-linejoin="round"/>
<rect x="361.8" y="417.6" width="4.8" height="4.8" fill="#7ea6e0"/>
<rect x="371.43" y="418.6" width="4.8" height="4.8" fill="#7ea6e0"/>
<rect x="381.06" y="420" width="4.8" height="4.8" fill="#7ea6e0"/>
<rect x="390.69" y="421.2" width="4.8" height="4.8" fill="#7ea6e0"/>
<rect x="400.32" y="422" width="4.8" height="4.8" fill="#7ea6e0"/>
<rect x="409.95" y="423.6" width="4.8" height="4.8" fill="#7ea6e0"/>
<rect x="419.58" y="423.6" width="4.8" height="4.8" fill="#7ea6e0"/>
<rect x="429.21" y="425" width="4.8" height="4.8" fill="#7ea6e0"/>
<rect x="438.84" y="425.2" width="4.8" height="4.8" fill="#7ea6e0"/>
<rect x="448.47" y="426.6" width="4.8" height="4.8" fill="#7ea6e0"/>
<rect x="458.1" y="426.6" width="4.8" height="4.8" fill="#7ea6e0"/>
<rect x="467.73" y="427.5" width="4.8" height="4.8" fill="#7ea6e0"/>
<rect x="477.36" y="428" width="4.8" height="4.8" fill="#7ea6e0"/>
<rect x="486.99" y="428.6" width="4.8" height="4.8" fill="#7ea6e0"/>
<rect x="496.62" y="429.1" width="4.8" height="4.8" fill="#7ea6e0"/>
<rect x="506.25" y="430.2" width="4.8" height="4.8" fill="#7ea6e0"/>
<rect x="515.88" y="430.9" width="4.8" height="4.8" fill="#7ea6e0"/>
<rect x="525.51" y="430.9" width="4.8" height="4.8" fill="#7ea6e0"/>
<rect x="535.14" y="430.9" width="4.8" height="4.8" fill="#7ea6e0"/>
<rect x="544.77" y="431.8" width="4.8" height="4.8" fill="#7ea6e0"/>
<rect x="554.4" y="431.8" width="4.8" height="4.8" fill="#7ea6e0"/>
<rect x="564.03" y="432" width="4.8" height="4.8" fill="#7ea6e0"/>
<rect x="573.66" y="432.5" width="4.8" height="4.8" fill="#7ea6e0"/>
<rect x="583.29" y="432.5" width="4.8" height="4.8" fill="#7ea6e0"/>
<rect x="592.92" y="433.2" width="4.8" height="4.8" fill="#7ea6e0"/>
<polyline points="364.2,270.7 373.83,261 383.46,255.3 393.09,257.8 402.72,253 412.35,252.4 421.98,252.6 431.61,253.4 441.24,252 450.87,252.6 460.5,251.6 470.13,254.5 479.76,253.6 489.39,255.1 499.02,252.9 508.65,254.5 518.28,253.3 527.91,257.4 537.54,256.7 547.17,260.75 556.8,259.2 566.43,263.5 576.06,260.3 585.69,267.5 595.32,267.5" fill="none" stroke="#f0ad6c" stroke-width="1.5" stroke-linejoin="round"/>
<rect x="361.8" y="268.3" width="4.8" height="4.8" fill="#f0ad6c"/>
<rect x="371.43" y="258.6" width="4.8" height="4.8" fill="#f0ad6c"/>
<rect x="381.06" y="252.9" width="4.8" height="4.8" fill="#f0ad6c"/>
<rect x="390.69" y="255.4" width="4.8" height="4.8" fill="#f0ad6c"/>
<rect x="400.32" y="250.6" width="4.8" height="4.8" fill="#f0ad6c"/>
<rect x="409.95" y="250" width="4.8" height="4.8" fill="#f0ad6c"/>
<rect x="419.58" y="250.2" width="4.8" height="4.8" fill="#f0ad6c"/>
<rect x="429.21" y="251" width="4.8" height="4.8" fill="#f0ad6c"/>
<rect x="438.84" y="249.6" width="4.8" height="4.8" fill="#f0ad6c"/>
<rect x="448.47" y="250.2" width="4.8" height="4.8" fill="#f0ad6c"/>
<rect x="458.1" y="249.2" width="4.8" height="4.8" fill="#f0ad6c"/>
<rect x="467.73" y="252.1" width="4.8" height="4.8" fill="#f0ad6c"/>
<rect x="477.36" y="251.2" width="4.8" height="4.8" fill="#f0ad6c"/>
<rect x="486.99" y="252.7" width="4.8" height="4.8" fill="#f0ad6c"/>
<rect x="496.62" y="250.5" width="4.8" height="4.8" fill="#f0ad6c"/>
<rect x="506.25" y="252.1" width="4.8" height="4.8" fill="#f0ad6c"/>
<rect x="515.88" y="250.9" width="4.8" height="4.8" fill="#f0ad6c"/>
<rect x="525.51" y="255" width="4.8" height="4.8" fill="#f0ad6c"/>
<rect x="535.14" y="254.3" width="4.8" height="4.8" fill="#f0ad6c"/>
<rect x="544.77" y="258.35" width="4.8" height="4.8" fill="#f0ad6c"/>
<rect x="554.4" y="256.8" width="4.8" height="4.8" fill="#f0ad6c"/>
<rect x="564.03" y="261.1" width="4.8" height="4.8" fill="#f0ad6c"/>
<rect x="573.66" y="257.9" width="4.8" height="4.8" fill="#f0ad6c"/>
<rect x="583.29" y="265.1" width="4.8" height="4.8" fill="#f0ad6c"/>
<rect x="592.92" y="265.1" width="4.8" height="4.8" fill="#f0ad6c"/>
<polyline points="364.2,284 373.83,285.4 383.46,291.4 393.09,294.6 402.72,297.4 412.35,302.6 421.98,302.6 431.61,306 441.24,306.4 450.87,310 460.5,310 470.13,312.3 479.76,313 489.39,313.6 499.02,313 508.65,315.2 518.28,315.9 527.91,318.8 537.54,318.1 547.17,323.75 556.8,322.2 566.43,324.9 576.06,329.4 585.69,327.8 595.32,333.9" fill="none" stroke="#2db6e2" stroke-width="1.5" stroke-linejoin="round"/>
<rect x="361.8" y="281.6" width="4.8" height="4.8" fill="#2db6e2"/>
<rect x="371.43" y="283" width="4.8" height="4.8" fill="#2db6e2"/>
<rect x="381.06" y="289" width="4.8" height="4.8" fill="#2db6e2"/>
<rect x="390.69" y="292.2" width="4.8" height="4.8" fill="#2db6e2"/>
<rect x="400.32" y="295" width="4.8" height="4.8" fill="#2db6e2"/>
<rect x="409.95" y="300.2" width="4.8" height="4.8" fill="#2db6e2"/>
<rect x="419.58" y="300.2" width="4.8" height="4.8" fill="#2db6e2"/>
<rect x="429.21" y="303.6" width="4.8" height="4.8" fill="#2db6e2"/>
<rect x="438.84" y="304" width="4.8" height="4.8" fill="#2db6e2"/>
<rect x="448.47" y="307.6" width="4.8" height="4.8" fill="#2db6e2"/>
<rect x="458.1" y="307.6" width="4.8" height="4.8" fill="#2db6e2"/>
<rect x="467.73" y="309.9" width="4.8" height="4.8" fill="#2db6e2"/>
<rect x="477.36" y="310.6" width="4.8" height="4.8" fill="#2db6e2"/>
<rect x="486.99" y="311.2" width="4.8" height="4.8" fill="#2db6e2"/>
<rect x="496.62" y="310.6" width="4.8" height="4.8" fill="#2db6e2"/>
<rect x="506.25" y="312.8" width="4.8" height="4.8" fill="#2db6e2"/>
<rect x="515.88" y="313.5" width="4.8" height="4.8" fill="#2db6e2"/>
<rect x="525.51" y="316.4" width="4.8" height="4.8" fill="#2db6e2"/>
<rect x="535.14" y="315.7" width="4.8" height="4.8" fill="#2db6e2"/>
<rect x="544.77" y="321.35" width="4.8" height="4.8" fill="#2db6e2"/>
<rect x="554.4" y="319.8" width="4.8" height="4.8" fill="#2db6e2"/>
<rect x="564.03" y="322.5" width="4.8" height="4.8" fill="#2db6e2"/>
<rect x="573.66" y="327" width="4.8" height="4.8" fill="#2db6e2"/>
<rect x="583.29" y="325.4" width="4.8" height="4.8" fill="#2db6e2"/>
<rect x="592.92" y="331.5" width="4.8" height="4.8" fill="#2db6e2"/>
<polyline points="364.2,288 373.83,290 383.46,297.2 393.09,302 402.72,306 412.35,314 421.98,314 431.61,320.6 441.24,322 450.87,330.6 460.5,329.4 470.13,335.6 479.76,337.7 489.39,341.3 499.02,343.6 508.65,350.3 518.28,352.3 527.91,355.7 537.54,355.9 547.17,361.6 556.8,361.6 566.43,366.5 576.06,368.75 585.69,368.3 595.32,373.7" fill="none" stroke="#d9716f" stroke-width="1.5" stroke-linejoin="round"/>
<rect x="361.8" y="285.6" width="4.8" height="4.8" fill="#d9716f"/>
<rect x="371.43" y="287.6" width="4.8" height="4.8" fill="#d9716f"/>
<rect x="381.06" y="294.8" width="4.8" height="4.8" fill="#d9716f"/>
<rect x="390.69" y="299.6" width="4.8" height="4.8" fill="#d9716f"/>
<rect x="400.32" y="303.6" width="4.8" height="4.8" fill="#d9716f"/>
<rect x="409.95" y="311.6" width="4.8" height="4.8" fill="#d9716f"/>
<rect x="419.58" y="311.6" width="4.8" height="4.8" fill="#d9716f"/>
<rect x="429.21" y="318.2" width="4.8" height="4.8" fill="#d9716f"/>
<rect x="438.84" y="319.6" width="4.8" height="4.8" fill="#d9716f"/>
<rect x="448.47" y="328.2" width="4.8" height="4.8" fill="#d9716f"/>
<rect x="458.1" y="327" width="4.8" height="4.8" fill="#d9716f"/>
<rect x="467.73" y="333.2" width="4.8" height="4.8" fill="#d9716f"/>
<rect x="477.36" y="335.3" width="4.8" height="4.8" fill="#d9716f"/>
<rect x="486.99" y="338.9" width="4.8" height="4.8" fill="#d9716f"/>
<rect x="496.62" y="341.2" width="4.8" height="4.8" fill="#d9716f"/>
<rect x="506.25" y="347.9" width="4.8" height="4.8" fill="#d9716f"/>
<rect x="515.88" y="349.9" width="4.8" height="4.8" fill="#d9716f"/>
<rect x="525.51" y="353.3" width="4.8" height="4.8" fill="#d9716f"/>
<rect x="535.14" y="353.5" width="4.8" height="4.8" fill="#d9716f"/>
<rect x="544.77" y="359.2" width="4.8" height="4.8" fill="#d9716f"/>
<rect x="554.4" y="359.2" width="4.8" height="4.8" fill="#d9716f"/>
<rect x="564.03" y="364.1" width="4.8" height="4.8" fill="#d9716f"/>
<rect x="573.66" y="366.35" width="4.8" height="4.8" fill="#d9716f"/>
<rect x="583.29" y="365.9" width="4.8" height="4.8" fill="#d9716f"/>
<rect x="592.92" y="371.3" width="4.8" height="4.8" fill="#d9716f"/>
</g>
<line x1="26.3" y1="516.8" x2="278.2" y2="516.8" stroke="#e3e3e3" stroke-width="0.9"/>
<line x1="26.3" y1="557.15" x2="278.2" y2="557.15" stroke="#e3e3e3" stroke-width="0.9"/>
<line x1="26.3" y1="597.5" x2="278.2" y2="597.5" stroke="#e3e3e3" stroke-width="0.9"/>
<line x1="26.3" y1="637.85" x2="278.2" y2="637.85" stroke="#e3e3e3" stroke-width="0.9"/>
<line x1="51.7" y1="516.8" x2="51.7" y2="678.2" stroke="#e3e3e3" stroke-width="0.9"/>
<line x1="102" y1="516.8" x2="102" y2="678.2" stroke="#e3e3e3" stroke-width="0.9"/>
<line x1="152.3" y1="516.8" x2="152.3" y2="678.2" stroke="#e3e3e3" stroke-width="0.9"/>
<line x1="202.6" y1="516.8" x2="202.6" y2="678.2" stroke="#e3e3e3" stroke-width="0.9"/>
<line x1="252.9" y1="516.8" x2="252.9" y2="678.2" stroke="#e3e3e3" stroke-width="0.9"/>
<rect x="37.4" y="561.3" width="14.3" height="116.9" fill="#de7878" stroke="#4a4a4a" stroke-width="0.7"/>
<rect x="51.7" y="582.5" width="14.3" height="95.7" fill="#2db8e6" stroke="#4a4a4a" stroke-width="0.7"/>
<rect x="87.7" y="559.7" width="14.3" height="118.5" fill="#de7878" stroke="#4a4a4a" stroke-width="0.7"/>
<rect x="102" y="574.2" width="14.3" height="104" fill="#2db8e6" stroke="#4a4a4a" stroke-width="0.7"/>
<rect x="138" y="533.75" width="14.3" height="144.45" fill="#de7878" stroke="#4a4a4a" stroke-width="0.7"/>
<rect x="152.3" y="522.5" width="14.3" height="155.7" fill="#2db8e6" stroke="#4a4a4a" stroke-width="0.7"/>
<rect x="188.3" y="538" width="14.3" height="140.2" fill="#de7878" stroke="#4a4a4a" stroke-width="0.7"/>
<rect x="202.6" y="665.6" width="14.3" height="12.6" fill="#2db8e6" stroke="#4a4a4a" stroke-width="0.7"/>
<rect x="238.6" y="538" width="14.3" height="140.2" fill="#de7878" stroke="#4a4a4a" stroke-width="0.7"/>
<rect x="252.9" y="657.4" width="14.3" height="20.8" fill="#2db8e6" stroke="#4a4a4a" stroke-width="0.7"/>
<line x1="26.3" y1="516.2" x2="26.3" y2="678.2" stroke="#d8a8a8" stroke-width="1.3"/>
<line x1="278.2" y1="516.2" x2="278.2" y2="678.2" stroke="#6fb8d4" stroke-width="1.3"/>
<line x1="26.3" y1="678.2" x2="278.2" y2="678.2" stroke="#55686a" stroke-width="1.2"/>
<line x1="23.3" y1="516.8" x2="26.3" y2="516.8" stroke="#d8a8a8" stroke-width="1.2"/>
<line x1="278.2" y1="516.8" x2="281.2" y2="516.8" stroke="#6fb8d4" stroke-width="1.2"/>
<line x1="23.3" y1="557.15" x2="26.3" y2="557.15" stroke="#d8a8a8" stroke-width="1.2"/>
<line x1="278.2" y1="557.15" x2="281.2" y2="557.15" stroke="#6fb8d4" stroke-width="1.2"/>
<line x1="23.3" y1="597.5" x2="26.3" y2="597.5" stroke="#d8a8a8" stroke-width="1.2"/>
<line x1="278.2" y1="597.5" x2="281.2" y2="597.5" stroke="#6fb8d4" stroke-width="1.2"/>
<line x1="23.3" y1="637.85" x2="26.3" y2="637.85" stroke="#d8a8a8" stroke-width="1.2"/>
<line x1="278.2" y1="637.85" x2="281.2" y2="637.85" stroke="#6fb8d4" stroke-width="1.2"/>
<line x1="23.3" y1="678.2" x2="26.3" y2="678.2" stroke="#d8a8a8" stroke-width="1.2"/>
<line x1="278.2" y1="678.2" x2="281.2" y2="678.2" stroke="#6fb8d4" stroke-width="1.2"/>
<line x1="51.7" y1="678.2" x2="51.7" y2="681.2" stroke="#55686a" stroke-width="1.1"/>
<line x1="102" y1="678.2" x2="102" y2="681.2" stroke="#55686a" stroke-width="1.1"/>
<line x1="152.3" y1="678.2" x2="152.3" y2="681.2" stroke="#55686a" stroke-width="1.1"/>
<line x1="202.6" y1="678.2" x2="202.6" y2="681.2" stroke="#55686a" stroke-width="1.1"/>
<line x1="252.9" y1="678.2" x2="252.9" y2="681.2" stroke="#55686a" stroke-width="1.1"/>
<text x="20.4" y="519.8" text-anchor="end" font-size="8.2" fill="#cf8080">0.018</text>
<text x="20.4" y="560.15" text-anchor="end" font-size="8.2" fill="#cf8080">0.013</text>
<text x="20.4" y="600.5" text-anchor="end" font-size="8.2" fill="#cf8080">0.009</text>
<text x="20.4" y="640.85" text-anchor="end" font-size="8.2" fill="#cf8080">0.004</text>
<text x="20.4" y="681.2" text-anchor="end" font-size="8.2" fill="#cf8080">0.000</text>
<text x="284.2" y="519.8" font-size="8.2" fill="#3aa6cc">70.0</text>
<text x="284.2" y="560.15" font-size="8.2" fill="#3aa6cc">52.5</text>
<text x="284.2" y="600.5" font-size="8.2" fill="#3aa6cc">35.0</text>
<text x="284.2" y="640.85" font-size="8.2" fill="#3aa6cc">17.5</text>
<text x="284.2" y="681.2" font-size="8.2" fill="#3aa6cc">0.0</text>
<text x="51.7" y="691.9" text-anchor="middle" font-size="8.3" font-weight="bold" fill="#1a1a1a">UNet-MCSA</text>
<text x="102" y="691.9" text-anchor="middle" font-size="8.3" font-weight="bold" fill="#1a1a1a">UNet-NNI</text>
<text x="152.3" y="691.9" text-anchor="middle" font-size="8.3" font-weight="bold" fill="#1a1a1a">NNI</text>
<text x="202.6" y="691.9" text-anchor="middle" font-size="8.3" font-weight="bold" fill="#1a1a1a">AE</text>
<text x="252.9" y="691.9" text-anchor="middle" font-size="8.3" font-weight="bold" fill="#1a1a1a">GAN</text>
<rect x="111.3" y="497.8" width="20.7" height="6.5" fill="#de7878" stroke="#555" stroke-width="0.7"/>
<text x="134.2" y="504" font-size="8.2" font-weight="bold" fill="#1a1a1a">RMSE</text>
<rect x="159.7" y="497.8" width="20.3" height="6.5" fill="#2db8e6" stroke="#555" stroke-width="0.7"/>
<text x="182" y="504" font-size="8.2" font-weight="bold" fill="#1a1a1a">VL</text>
<line x1="325.2" y1="516.8" x2="578.5" y2="516.8" stroke="#e3e3e3" stroke-width="0.9"/>
<line x1="325.2" y1="557.15" x2="578.5" y2="557.15" stroke="#e3e3e3" stroke-width="0.9"/>
<line x1="325.2" y1="597.5" x2="578.5" y2="597.5" stroke="#e3e3e3" stroke-width="0.9"/>
<line x1="325.2" y1="637.85" x2="578.5" y2="637.85" stroke="#e3e3e3" stroke-width="0.9"/>
<line x1="351.6" y1="516.8" x2="351.6" y2="678.2" stroke="#e3e3e3" stroke-width="0.9"/>
<line x1="401.8" y1="516.8" x2="401.8" y2="678.2" stroke="#e3e3e3" stroke-width="0.9"/>
<line x1="452" y1="516.8" x2="452" y2="678.2" stroke="#e3e3e3" stroke-width="0.9"/>
<line x1="502.2" y1="516.8" x2="502.2" y2="678.2" stroke="#e3e3e3" stroke-width="0.9"/>
<line x1="552.4" y1="516.8" x2="552.4" y2="678.2" stroke="#e3e3e3" stroke-width="0.9"/>
<rect x="337.3" y="525" width="14.3" height="153.2" fill="#eeab68" stroke="#4a4a4a" stroke-width="0.7"/>
<rect x="351.6" y="520" width="14.3" height="158.2" fill="#a5c591" stroke="#4a4a4a" stroke-width="0.7"/>
<rect x="387.5" y="525" width="14.3" height="153.2" fill="#eeab68" stroke="#4a4a4a" stroke-width="0.7"/>
<rect x="401.8" y="520" width="14.3" height="158.2" fill="#a5c591" stroke="#4a4a4a" stroke-width="0.7"/>
<rect x="437.7" y="530" width="14.3" height="148.2" fill="#eeab68" stroke="#4a4a4a" stroke-width="0.7"/>
<rect x="452" y="525" width="14.3" height="153.2" fill="#a5c591" stroke="#4a4a4a" stroke-width="0.7"/>
<rect x="487.9" y="529.6" width="14.3" height="148.6" fill="#eeab68" stroke="#4a4a4a" stroke-width="0.7"/>
<rect x="502.2" y="527" width="14.3" height="151.2" fill="#a5c591" stroke="#4a4a4a" stroke-width="0.7"/>
<rect x="538.1" y="529.2" width="14.3" height="149" fill="#eeab68" stroke="#4a4a4a" stroke-width="0.7"/>
<rect x="552.4" y="526" width="14.3" height="152.2" fill="#a5c591" stroke="#4a4a4a" stroke-width="0.7"/>
<line x1="325.2" y1="516.2" x2="325.2" y2="678.2" stroke="#dcc6a8" stroke-width="1.3"/>
<line x1="578.5" y1="516.2" x2="578.5" y2="678.2" stroke="#b0bab0" stroke-width="1.3"/>
<line x1="325.2" y1="678.2" x2="578.5" y2="678.2" stroke="#55686a" stroke-width="1.2"/>
<line x1="322.2" y1="516.8" x2="325.2" y2="516.8" stroke="#dcc6a8" stroke-width="1.2"/>
<line x1="578.5" y1="516.8" x2="581.5" y2="516.8" stroke="#b0bab0" stroke-width="1.2"/>
<line x1="322.2" y1="557.15" x2="325.2" y2="557.15" stroke="#dcc6a8" stroke-width="1.2"/>
<line x1="578.5" y1="557.15" x2="581.5" y2="557.15" stroke="#b0bab0" stroke-width="1.2"/>
<line x1="322.2" y1="597.5" x2="325.2" y2="597.5" stroke="#dcc6a8" stroke-width="1.2"/>
<line x1="578.5" y1="597.5" x2="581.5" y2="597.5" stroke="#b0bab0" stroke-width="1.2"/>
<line x1="322.2" y1="637.85" x2="325.2" y2="637.85" stroke="#dcc6a8" stroke-width="1.2"/>
<line x1="578.5" y1="637.85" x2="581.5" y2="637.85" stroke="#b0bab0" stroke-width="1.2"/>
<line x1="322.2" y1="678.2" x2="325.2" y2="678.2" stroke="#dcc6a8" stroke-width="1.2"/>
<line x1="578.5" y1="678.2" x2="581.5" y2="678.2" stroke="#b0bab0" stroke-width="1.2"/>
<line x1="351.6" y1="678.2" x2="351.6" y2="681.2" stroke="#55686a" stroke-width="1.1"/>
<line x1="401.8" y1="678.2" x2="401.8" y2="681.2" stroke="#55686a" stroke-width="1.1"/>
<line x1="452" y1="678.2" x2="452" y2="681.2" stroke="#55686a" stroke-width="1.1"/>
<line x1="502.2" y1="678.2" x2="502.2" y2="681.2" stroke="#55686a" stroke-width="1.1"/>
<line x1="552.4" y1="678.2" x2="552.4" y2="681.2" stroke="#55686a" stroke-width="1.1"/>
<text x="319.3" y="519.8" text-anchor="end" font-size="8.2" fill="#dfa56e">1.000</text>
<text x="319.3" y="560.15" text-anchor="end" font-size="8.2" fill="#dfa56e">0.750</text>
<text x="319.3" y="600.5" text-anchor="end" font-size="8.2" fill="#dfa56e">0.500</text>
<text x="319.3" y="640.85" text-anchor="end" font-size="8.2" fill="#dfa56e">0.250</text>
<text x="319.3" y="681.2" text-anchor="end" font-size="8.2" fill="#dfa56e">0.000</text>
<text x="584.5" y="519.8" font-size="8.2" fill="#98ad8c">40.0</text>
<text x="584.5" y="560.15" font-size="8.2" fill="#98ad8c">30.0</text>
<text x="584.5" y="600.5" font-size="8.2" fill="#98ad8c">20.0</text>
<text x="584.5" y="640.85" font-size="8.2" fill="#98ad8c">10.0</text>
<text x="584.5" y="681.2" font-size="8.2" fill="#98ad8c">0.0</text>
<text x="351.6" y="691.9" text-anchor="middle" font-size="8.3" font-weight="bold" fill="#1a1a1a">UNet-MCSA</text>
<text x="401.8" y="691.9" text-anchor="middle" font-size="8.3" font-weight="bold" fill="#1a1a1a">UNet-NNI</text>
<text x="452" y="691.9" text-anchor="middle" font-size="8.3" font-weight="bold" fill="#1a1a1a">NNI</text>
<text x="502.2" y="691.9" text-anchor="middle" font-size="8.3" font-weight="bold" fill="#1a1a1a">AE</text>
<text x="552.4" y="691.9" text-anchor="middle" font-size="8.3" font-weight="bold" fill="#1a1a1a">GAN</text>
<rect x="407.5" y="497.8" width="20.8" height="6.5" fill="#eeab68" stroke="#555" stroke-width="0.7"/>
<text x="430" y="504" font-size="8.2" font-weight="bold" fill="#1a1a1a">SSIM</text>
<rect x="453.3" y="497.8" width="20.9" height="6.5" fill="#a5c591" stroke="#555" stroke-width="0.7"/>
<text x="475.9" y="504" font-size="8.2" font-weight="bold" fill="#1a1a1a">PSNR</text>
</svg></body></html>
